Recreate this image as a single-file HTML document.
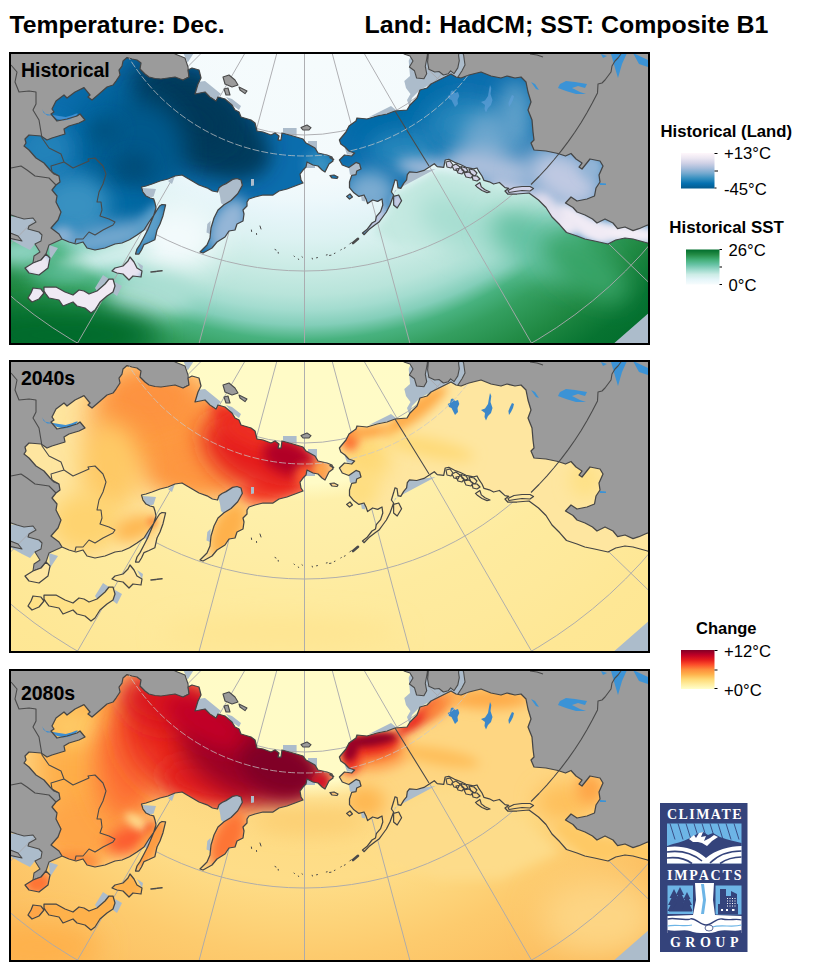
<!DOCTYPE html><html><head><meta charset="utf-8"><title>Temperature: Dec.</title>
<style>html,body{margin:0;padding:0;background:#fff}body{width:830px;height:970px;overflow:hidden}svg{display:block}text{font-family:"Liberation Sans",Arial,sans-serif;fill:#000}.b{font-weight:bold}.lg text{font-size:16.7px}.lg text.b{font-size:16px}</style></head><body>
<svg width="830" height="970" viewBox="0 0 830 970">
<defs>
<clipPath id="cpanel"><rect x="10" y="53" width="639" height="291"/></clipPath>
<clipPath id="cland"><path d="M127.0,57.6 L132.0,59.0 L137.0,60.0 L141.0,63.0 L140.0,69.0 L145.0,74.0 L149.0,77.0 L155.0,78.5 L161.0,79.0 L168.0,78.0 L175.0,77.0 L183.0,80.0 L189.0,77.0 L188.0,70.0 L192.0,68.0 L199.0,70.0 L201.0,78.0 L198.0,84.0 L195.0,94.0 L205.0,92.0 L210.0,97.0 L216.0,101.0 L218.0,97.0 L225.0,99.0 L232.0,105.0 L235.0,110.0 L239.0,112.0 L241.0,117.0 L251.0,120.0 L255.0,123.0 L257.0,131.0 L263.0,132.0 L271.0,135.0 L275.0,133.0 L279.0,136.0 L278.0,140.0 L281.0,140.0 L282.0,133.0 L293.0,136.0 L303.0,139.0 L306.0,143.0 L315.0,148.0 L318.0,153.0 L327.0,155.0 L332.0,157.0 L333.0,161.0 L329.0,164.0 L325.0,172.0 L322.0,170.0 L318.0,166.0 L313.0,165.0 L307.0,162.0 L306.0,167.0 L303.0,170.0 L300.0,174.0 L301.0,180.0 L303.0,183.0 L295.0,186.0 L287.0,189.0 L279.0,191.0 L273.0,195.0 L263.0,195.0 L255.0,197.0 L249.0,199.0 L247.0,202.0 L247.0,206.0 L243.0,210.0 L244.0,214.0 L243.0,221.0 L237.0,224.0 L235.0,230.0 L229.0,231.0 L225.0,237.0 L217.0,242.0 L212.0,248.0 L203.0,253.0 L200.0,252.0 L207.0,245.0 L210.0,238.0 L211.0,228.0 L214.0,218.0 L218.0,210.0 L224.0,204.7 L231.0,200.5 L237.7,193.7 L242.4,185.3 L241.0,180.0 L237.0,178.5 L232.6,179.4 L226.0,183.6 L222.0,185.5 L219.0,187.8 L217.5,192.0 L212.4,191.0 L207.0,187.8 L199.0,185.0 L190.5,180.0 L182.0,175.0 L175.0,176.0 L168.0,179.0 L160.0,181.0 L152.0,184.0 L146.0,186.0 L141.5,187.0 L143.0,192.0 L146.0,196.0 L150.0,198.0 L153.6,198.8 L155.0,203.0 L156.0,208.0 L153.6,215.7 L149.0,222.0 L144.0,230.0 L137.0,235.0 L129.5,239.8 L122.0,243.0 L115.0,244.0 L105.0,248.0 L95.0,250.0 L87.0,248.0 L83.0,242.0 L76.0,244.0 L69.0,242.0 L62.0,239.0 L59.0,234.0 L51.0,228.0 L58.0,220.0 L61.0,212.0 L56.0,202.0 L57.0,196.0 L52.0,190.0 L56.0,185.0 L60.0,182.0 L59.0,176.0 L54.0,174.0 L50.0,170.0 L44.0,163.0 L36.0,158.0 L29.0,150.0 L24.0,146.0 L26.0,143.0 L25.0,139.0 L29.0,135.0 L41.0,136.0 L47.0,140.0 L52.0,138.0 L65.0,134.0 L64.0,129.0 L69.0,126.0 L79.0,123.0 L85.0,120.0 L80.0,114.0 L77.0,116.0 L67.0,119.0 L57.0,121.0 L51.0,114.0 L54.0,112.0 L52.0,109.0 L56.0,101.0 L64.0,95.0 L67.0,98.0 L75.0,92.0 L84.0,87.6 L90.0,95.0 L88.0,97.0 L92.0,100.0 L99.0,94.0 L107.0,87.0 L113.0,85.0 L116.0,81.0 L120.0,75.0 L119.0,70.0 L122.0,66.0 L123.0,61.0Z M165.6,204.8 L163.0,215.7 L160.0,224.0 L157.0,230.0 L154.8,239.8 L149.0,242.5 L144.0,244.6 L141.5,250.0 L139.0,254.0 L135.5,254.0 L137.0,249.0 L140.0,244.6 L144.0,237.0 L147.6,230.0 L151.0,222.0 L153.6,215.7 L157.0,210.0 L159.6,206.0 L162.0,204.5Z M130.0,257.0 L134.0,262.0 L137.0,268.0 L142.0,271.0 L141.0,277.0 L133.0,276.0 L129.0,280.0 L123.0,274.0 L117.0,273.0 L112.0,271.0 L115.0,268.0 L123.0,266.0 L128.0,261.0Z M44.0,287.0 L56.0,287.0 L65.0,292.0 L73.0,295.0 L79.0,290.0 L84.0,291.0 L89.0,294.0 L97.0,291.0 L105.0,284.0 L109.0,279.0 L113.0,279.0 L115.0,286.0 L113.0,292.0 L107.0,296.0 L100.0,302.0 L95.0,310.0 L91.0,313.0 L85.0,308.0 L77.0,306.0 L73.0,302.0 L68.0,304.0 L63.0,306.0 L59.0,300.0 L54.0,299.0 L49.0,298.0 L46.0,294.0 L44.0,291.0Z M33.0,288.0 L41.0,289.0 L44.0,293.0 L39.0,299.0 L32.0,302.0 L28.0,298.0 L31.0,293.0Z M33.0,263.0 L25.0,268.0 L29.0,273.0 L39.0,275.0 L48.0,268.0 L50.0,258.0 L46.0,254.0 L41.0,260.0Z M341.0,138.0 L346.0,132.0 L349.0,126.0 L356.0,121.0 L357.0,118.0 L367.0,119.0 L377.0,116.0 L387.0,114.0 L395.0,111.0 L407.0,110.0 L410.0,105.0 L417.0,98.0 L420.0,90.0 L427.0,88.0 L431.0,84.0 L439.0,80.0 L447.0,76.0 L451.0,74.0 L456.0,77.0 L461.0,78.0 L469.0,75.0 L481.0,72.0 L491.0,76.0 L501.0,78.0 L507.0,76.0 L515.0,78.0 L521.0,77.0 L526.0,82.0 L528.0,92.0 L531.0,102.0 L528.0,110.0 L532.0,120.0 L533.0,132.0 L534.0,140.0 L531.0,143.0 L534.0,150.0 L546.0,151.0 L558.0,153.5 L565.5,156.0 L571.0,153.5 L576.0,159.0 L582.0,163.0 L579.0,167.0 L582.0,169.0 L590.0,159.0 L600.0,161.0 L603.0,166.0 L599.0,175.0 L600.0,182.0 L596.0,188.0 L594.5,196.0 L587.0,199.0 L577.0,201.0 L571.0,197.0 L565.5,203.0 L573.0,207.5 L577.0,212.0 L585.0,215.0 L592.5,219.0 L597.0,223.0 L605.0,219.0 L613.0,223.0 L617.6,228.7 L625.0,227.0 L633.0,230.6 L639.0,228.7 L647.5,225.0 L651.0,225.0 L651.0,243.0 L647.5,243.0 L633.0,239.0 L625.0,238.0 L615.7,240.0 L608.0,244.0 L594.5,241.0 L584.8,239.0 L577.0,236.0 L566.5,232.5 L559.8,224.8 L552.0,217.0 L546.0,207.5 L538.5,200.0 L529.0,193.0 L517.0,194.0 L507.7,194.0 L505.0,191.0 L508.8,188.3 L505.0,187.6 L499.4,182.5 L493.6,184.0 L489.3,181.8 L484.0,180.4 L482.0,176.0 L479.0,171.7 L477.0,168.0 L473.4,168.8 L466.0,167.3 L460.4,164.5 L454.6,162.3 L448.8,159.4 L445.2,160.0 L443.7,167.3 L437.2,166.6 L434.3,163.7 L429.7,166.7 L424.0,170.4 L416.7,172.5 L409.5,171.8 L407.3,174.7 L406.6,179.8 L403.7,183.4 L400.8,188.4 L398.0,187.7 L397.0,180.5 L395.0,179.8 L393.6,184.8 L391.4,192.0 L393.6,195.0 L390.0,205.0 L386.4,212.0 L382.0,218.0 L379.0,222.0 L374.8,225.0 L369.0,229.6 L364.0,234.7 L362.5,233.0 L366.9,229.6 L372.0,223.0 L375.5,221.0 L376.3,216.6 L380.6,211.6 L382.8,205.0 L382.0,199.0 L377.7,201.4 L372.6,200.0 L367.6,203.6 L366.0,199.0 L364.0,195.0 L358.9,196.4 L353.9,192.8 L349.5,187.7 L349.5,182.0 L351.7,175.4 L356.0,174.7 L356.7,171.0 L361.0,169.0 L359.6,163.9 L356.0,162.4 L348.8,167.5 L342.3,165.0 L339.4,160.0 L344.5,155.0 L351.7,156.0 L354.6,153.0 L348.8,151.0 L345.0,147.0 L340.8,144.0 L339.4,140.0Z M393.6,196.4 L398.7,195.0 L401.6,200.7 L397.2,208.0 L393.6,205.0Z M330.0,175.5 L334.0,175.0 L338.0,177.0 L337.0,178.5 L332.0,178.0Z M346.6,196.4 L350.0,194.0 L352.4,197.0 L349.5,199.0Z"/></clipPath>
<filter id="bl2" x="-150%" y="-150%" width="400%" height="400%"><feGaussianBlur stdDeviation="2"/></filter>
<filter id="bl3" x="-150%" y="-150%" width="400%" height="400%"><feGaussianBlur stdDeviation="3"/></filter>
<filter id="bl4" x="-150%" y="-150%" width="400%" height="400%"><feGaussianBlur stdDeviation="4"/></filter>
<filter id="bl5" x="-150%" y="-150%" width="400%" height="400%"><feGaussianBlur stdDeviation="5"/></filter>
<filter id="bl6" x="-150%" y="-150%" width="400%" height="400%"><feGaussianBlur stdDeviation="6"/></filter>
<filter id="bl7" x="-150%" y="-150%" width="400%" height="400%"><feGaussianBlur stdDeviation="7"/></filter>
<filter id="bl8" x="-150%" y="-150%" width="400%" height="400%"><feGaussianBlur stdDeviation="8"/></filter>
<filter id="bl9" x="-150%" y="-150%" width="400%" height="400%"><feGaussianBlur stdDeviation="9"/></filter>
<filter id="bl10" x="-150%" y="-150%" width="400%" height="400%"><feGaussianBlur stdDeviation="10"/></filter>
<filter id="bl12" x="-150%" y="-150%" width="400%" height="400%"><feGaussianBlur stdDeviation="12"/></filter>
<filter id="bl14" x="-150%" y="-150%" width="400%" height="400%"><feGaussianBlur stdDeviation="14"/></filter>
<filter id="bl16" x="-150%" y="-150%" width="400%" height="400%"><feGaussianBlur stdDeviation="16"/></filter>
<radialGradient id="gsst" gradientUnits="userSpaceOnUse" cx="304.5" cy="-50" r="560">
<stop offset="0.0000" stop-color="#f7fcfd"/>
<stop offset="0.4107" stop-color="#f3fafc"/>
<stop offset="0.4464" stop-color="#edf8fb"/>
<stop offset="0.4732" stop-color="#e6f5f9"/>
<stop offset="0.5179" stop-color="#dcf2f2"/>
<stop offset="0.5625" stop-color="#ccece6"/>
<stop offset="0.6161" stop-color="#b8e4da"/>
<stop offset="0.6429" stop-color="#a3dccf"/>
<stop offset="0.6696" stop-color="#83ceb9"/>
<stop offset="0.6964" stop-color="#48b27f"/>
<stop offset="0.7321" stop-color="#349f60"/>
<stop offset="0.7964" stop-color="#208943"/>
<stop offset="0.8625" stop-color="#077331"/>
<stop offset="0.9286" stop-color="#006b2b"/>
<stop offset="1.0000" stop-color="#006529"/>
</radialGradient>
<radialGradient id="goc2" gradientUnits="userSpaceOnUse" cx="304.5" cy="-50" r="560">
<stop offset="0.0000" stop-color="#fffbc8"/>
<stop offset="0.4018" stop-color="#fffbc6"/>
<stop offset="0.4339" stop-color="#fef0ab"/>
<stop offset="0.5357" stop-color="#feeda5"/>
<stop offset="0.6071" stop-color="#feeb9f"/>
<stop offset="0.7143" stop-color="#fee99b"/>
<stop offset="0.8214" stop-color="#fee795"/>
<stop offset="1.0000" stop-color="#fee592"/>
</radialGradient>
<radialGradient id="goc3" gradientUnits="userSpaceOnUse" cx="304.5" cy="-50" r="560">
<stop offset="0.0000" stop-color="#fffbc8"/>
<stop offset="0.3839" stop-color="#fffbc6"/>
<stop offset="0.4143" stop-color="#fee294"/>
<stop offset="0.4464" stop-color="#fdd882"/>
<stop offset="0.5054" stop-color="#fedc86"/>
<stop offset="0.5589" stop-color="#fedd88"/>
<stop offset="0.6304" stop-color="#fdd47a"/>
<stop offset="0.6929" stop-color="#fdcb6e"/>
<stop offset="0.8036" stop-color="#fcc062"/>
<stop offset="0.8929" stop-color="#fbb654"/>
<stop offset="1.0000" stop-color="#fbb04c"/>
</radialGradient>
<linearGradient id="lgland" x1="0" y1="0" x2="0" y2="1">
<stop offset="0.000" stop-color="#fff7fb"/>
<stop offset="0.143" stop-color="#ece7f2"/>
<stop offset="0.286" stop-color="#d0d1e6"/>
<stop offset="0.429" stop-color="#a6bddb"/>
<stop offset="0.571" stop-color="#74a9cf"/>
<stop offset="0.714" stop-color="#3690c0"/>
<stop offset="0.857" stop-color="#0570b0"/>
<stop offset="1.000" stop-color="#045a8d"/>
</linearGradient>
<linearGradient id="lgsst" x1="0" y1="0" x2="0" y2="1">
<stop offset="0.000" stop-color="#006d2c"/>
<stop offset="0.143" stop-color="#238b45"/>
<stop offset="0.286" stop-color="#41ae76"/>
<stop offset="0.429" stop-color="#66c2a4"/>
<stop offset="0.571" stop-color="#99d8c9"/>
<stop offset="0.714" stop-color="#ccece6"/>
<stop offset="0.857" stop-color="#e5f5f9"/>
<stop offset="1.000" stop-color="#f7fcfd"/>
</linearGradient>
<linearGradient id="lgchg" x1="0" y1="0" x2="0" y2="1">
<stop offset="0.000" stop-color="#800026"/>
<stop offset="0.125" stop-color="#bd0026"/>
<stop offset="0.250" stop-color="#e31a1c"/>
<stop offset="0.375" stop-color="#fc4e2a"/>
<stop offset="0.500" stop-color="#fd8d3c"/>
<stop offset="0.625" stop-color="#feb24c"/>
<stop offset="0.750" stop-color="#fed976"/>
<stop offset="0.875" stop-color="#ffeda0"/>
<stop offset="1.000" stop-color="#ffffcc"/>
</linearGradient>
</defs>
<g transform="translate(0,0)"><g clip-path="url(#cpanel)"><rect x="9" y="52" width="642" height="294" fill="url(#gsst)"/><ellipse cx="175" cy="238" rx="45" ry="35" fill="#f3fafc" filter="url(#bl14)"/><ellipse cx="105" cy="258" rx="50" ry="9" fill="#d6f0ee" filter="url(#bl7)" transform="rotate(-12 105 258)"/><ellipse cx="22" cy="252" rx="30" ry="14" fill="#8fd4c2" filter="url(#bl8)"/><ellipse cx="150" cy="295" rx="45" ry="22" fill="#abdfd3" filter="url(#bl10)"/><ellipse cx="60" cy="274" rx="30" ry="10" fill="#57ba92" filter="url(#bl8)"/><path d="M394.0,193.0 L436.0,169.5 L480.0,178.0 L520.0,198.0 L500.0,230.0 L440.0,250.0 L395.0,245.0 L372.0,232.0 L386.0,215.0Z" fill="#c4e9e1" filter="url(#bl5)"/><ellipse cx="470" cy="228" rx="55" ry="26" fill="#a7ded1" filter="url(#bl12)" transform="rotate(25 470 228)"/><ellipse cx="535" cy="243" rx="50" ry="26" fill="#66c2a4" filter="url(#bl12)" transform="rotate(32 535 243)"/><ellipse cx="585" cy="268" rx="50" ry="22" fill="#39a468" filter="url(#bl12)" transform="rotate(35 585 268)"/><ellipse cx="60" cy="335" rx="100" ry="28" fill="#006b2b" filter="url(#bl14)"/><path d="M182.7,52.0 L194.5,52.0 L187.7,62.6Z M226.0,97.0 L232.0,99.0 L241.0,106.0 L239.0,110.0 L232.0,105.0Z M218.0,188.5 L222.0,184.5 L226.0,182.6 L232.6,178.4 L242.0,179.0 L243.4,185.3 L238.7,194.7 L232.0,201.5 L224.0,205.7 L221.0,203.0 L220.0,196.0Z M8.0,216.0 L33.0,218.0 L36.0,222.0 L29.0,226.0 L28.0,229.0 L39.0,232.0 L42.0,235.0 L41.0,241.0 L35.0,244.0 L30.0,250.0 L22.0,246.0 L8.0,238.0Z M49.0,245.0 L58.0,248.0 L50.0,260.0Z M197.0,82.0 L205.0,81.0 L221.0,94.0 L215.0,100.0 L205.0,92.0 L195.0,94.0Z M283.0,128.0 L296.6,128.0 L296.6,136.0 L283.0,133.0Z M308.0,141.0 L317.0,141.0 L317.0,150.0 L308.0,146.0Z M305.0,160.0 L315.0,160.0 L315.0,168.0 L305.0,168.0Z M142.7,188.0 L156.0,189.0 L153.6,196.4 L146.3,198.8Z M142.7,227.7 L153.6,213.0 L156.0,215.7 L147.6,232.5Z M137.0,262.0 L143.0,266.0 L142.0,271.0Z M103.0,275.0 L109.0,279.0 L97.0,291.0 L95.0,288.0Z M115.0,282.0 L122.0,286.0 L117.0,296.0 L113.0,293.0Z M404.3,81.0 L410.0,75.9 L408.7,60.7 L413.0,51.0 L463.0,51.0 L465.0,65.0 L458.0,77.0 L447.7,75.9 L431.0,84.0 L420.0,90.0 L412.0,98.0 L409.5,107.0 L407.0,100.0 L410.5,94.0 L406.0,88.0Z M369.0,117.0 L391.0,106.0 L396.0,110.0 L395.0,112.0Z M344.5,147.0 L353.9,151.6 L354.6,155.0 L347.0,154.5Z M348.8,167.5 L356.0,162.4 L361.0,166.0 L361.0,171.0 L356.7,174.7 L350.0,174.7Z M361.0,195.7 L364.7,196.4 L365.4,201.4 L361.8,200.7Z M408.8,172.5 L435.5,169.0 L395.0,190.6 L390.0,205.0 L393.0,195.0Z M611.0,346.0 L652.0,310.0 L652.0,346.0Z" fill="#acbccb"/><g fill="none" stroke="#a9a9ad" stroke-width="1" opacity="0.92"><line x1="247.9" y1="6.6" x2="-133.9" y2="388.4"/><line x1="264.5" y1="19.3" x2="-5.5" y2="486.9"/><line x1="283.8" y1="27.3" x2="144.0" y2="548.9"/><line x1="304.5" y1="30.0" x2="304.5" y2="570.0"/><line x1="325.2" y1="27.3" x2="465.0" y2="548.9"/><line x1="344.5" y1="19.3" x2="614.5" y2="486.9"/><line x1="362.0" y1="5.6" x2="750.5" y2="380.7"/><circle cx="304.5" cy="-50" r="185"/><circle cx="304.5" cy="-50" r="321"/><circle cx="304.5" cy="-50" r="454"/></g><path d="M8.0,51.0 L176.0,51.0 L175.0,54.0 L185.0,58.0 L188.0,67.0 L189.0,77.0 L183.0,80.0 L160.0,100.0 L100.0,150.0 L70.0,200.0 L62.0,239.0 L60.0,240.0 L49.0,245.0 L46.0,254.0 L41.0,260.0 L33.0,263.0 L34.0,256.0 L40.0,252.0 L35.0,244.0 L41.0,241.0 L42.0,235.0 L39.0,232.0 L28.0,229.0 L29.0,226.0 L36.0,222.0 L33.0,218.0 L24.0,219.0 L17.0,217.0 L8.0,214.0Z M8.0,232.0 L18.0,236.0 L22.0,241.0 L8.0,238.0Z M462.0,51.0 L463.6,55.0 L465.0,65.0 L462.0,70.8 L457.8,77.3 L459.0,80.0 L480.0,76.0 L515.0,85.0 L522.0,120.0 L528.0,150.0 L540.0,165.0 L555.0,180.0 L560.0,195.0 L563.0,210.0 L570.0,218.0 L580.0,225.0 L600.0,234.0 L620.0,236.0 L652.0,238.0 L652.0,51.0Z M404.0,51.0 L404.0,54.0 L410.0,56.0 L413.0,61.0 L409.4,67.0 L414.5,70.8 L416.6,78.0 L423.9,78.7 L426.7,73.7 L425.3,66.5 L426.7,59.0 L427.3,55.6 L427.6,51.0Z M428.6,51.0 L428.2,55.6 L427.6,62.0 L428.9,69.3 L434.7,72.0 L439.0,71.5 L443.4,75.0 L448.4,73.7 L450.6,70.8 L454.0,73.7 L457.8,67.9 L459.3,60.7 L458.6,55.6 L459.0,51.0Z M301.0,127.6 L307.0,125.0 L311.0,127.6 L309.0,130.0 L303.0,130.0Z M223.0,77.0 L229.0,75.0 L235.0,80.0 L238.0,85.0 L232.0,87.0 L225.0,84.0Z M224.0,89.0 L228.0,88.0 L230.0,95.0 L226.0,95.0Z M239.0,87.0 L247.0,91.0 L245.0,93.6 L240.0,90.0Z" fill="#9b9b9b" stroke="#4a4a4a" stroke-width="1.1" stroke-linejoin="round"/><path d="M560.0,84.0 L566.0,81.0 L575.0,82.0 L587.0,84.0 L585.0,88.0 L578.0,86.0 L572.0,88.0 L580.0,92.0 L586.0,94.0 L576.0,94.0 L566.0,91.0 L558.0,88.0Z M531.0,82.0 L535.0,84.0 L539.0,90.0 L536.0,89.0Z M601.0,54.0 L607.0,56.0 L603.0,58.0Z M611.0,54.0 L627.0,53.0 L622.0,64.0 L618.0,78.0 L615.0,68.0Z M633.0,53.0 L648.0,60.0 L648.0,67.0 L639.0,64.0Z M600.0,183.0 L606.0,183.5 L606.0,185.0 L600.0,185.0Z" fill="#3b93d6"/><g clip-path="url(#cland)"><rect x="9" y="52" width="642" height="294" fill="#0b6dad"/><ellipse cx="175" cy="103" rx="55" ry="36" fill="#023858" filter="url(#bl14)" transform="rotate(30 175 103)"/><ellipse cx="232" cy="150" rx="38" ry="22" fill="#023d60" filter="url(#bl10)" transform="rotate(20 232 150)"/><ellipse cx="115" cy="140" rx="45" ry="60" fill="#04649c" filter="url(#bl14)"/><ellipse cx="200" cy="125" rx="70" ry="45" fill="#023b5c" filter="url(#bl12)" transform="rotate(30 200 125)"/><ellipse cx="195" cy="120" rx="38" ry="28" fill="#023858" filter="url(#bl10)" transform="rotate(30 195 120)"/><ellipse cx="140" cy="150" rx="45" ry="50" fill="#04598b" filter="url(#bl12)"/><ellipse cx="125" cy="205" rx="25" ry="16" fill="#0567a2" filter="url(#bl8)"/><ellipse cx="105" cy="131" rx="16" ry="12" fill="#045382" filter="url(#bl8)"/><ellipse cx="134" cy="167" rx="18" ry="14" fill="#034e7a" filter="url(#bl8)"/><ellipse cx="45" cy="150" rx="28" ry="28" fill="#2082b9" filter="url(#bl10)"/><ellipse cx="75" cy="205" rx="35" ry="30" fill="#3891c1" filter="url(#bl10)"/><ellipse cx="110" cy="238" rx="55" ry="14" fill="#74a9cf" filter="url(#bl8)" transform="rotate(-12 110 238)"/><ellipse cx="62" cy="236" rx="12" ry="10" fill="#88b1d4" filter="url(#bl5)"/><ellipse cx="150" cy="225" rx="10" ry="25" fill="#5b9fc9" filter="url(#bl5)" transform="rotate(30 150 225)"/><ellipse cx="228" cy="226" rx="18" ry="30" fill="#94b6d7" filter="url(#bl7)" transform="rotate(25 228 226)"/><ellipse cx="320" cy="165" rx="14" ry="14" fill="#3891c1" filter="url(#bl6)"/><ellipse cx="80" cy="296" rx="62" ry="22" fill="#f0eaf4" filter="url(#bl3)" transform="rotate(-12 80 296)"/><ellipse cx="36" cy="295" rx="13" ry="11" fill="#f0eaf4" filter="url(#bl3)"/><ellipse cx="128" cy="268" rx="18" ry="14" fill="#e9e4f1" filter="url(#bl3)"/><ellipse cx="38" cy="265" rx="16" ry="14" fill="#ede8f2" filter="url(#bl3)"/><ellipse cx="400" cy="110" rx="60" ry="22" fill="#056ba8" filter="url(#bl10)" transform="rotate(-25 400 110)"/><ellipse cx="405" cy="150" rx="35" ry="18" fill="#2887bc" filter="url(#bl10)"/><ellipse cx="465" cy="125" rx="40" ry="28" fill="#2887bc" filter="url(#bl12)"/><ellipse cx="515" cy="115" rx="18" ry="35" fill="#5b9fc9" filter="url(#bl10)"/><ellipse cx="487" cy="138" rx="26" ry="26" fill="#6aa5cd" filter="url(#bl10)"/><ellipse cx="370" cy="192" rx="26" ry="22" fill="#7cacd1" filter="url(#bl9)"/><ellipse cx="376" cy="222" rx="12" ry="18" fill="#bfc9e2" filter="url(#bl5)" transform="rotate(25 376 222)"/><ellipse cx="397.5" cy="201.5" rx="6" ry="8" fill="#c6cce3" filter="url(#bl2)"/><ellipse cx="440" cy="170" rx="45" ry="10" fill="#abbfdc" filter="url(#bl7)" transform="rotate(8 440 170)"/><ellipse cx="490" cy="168" rx="45" ry="18" fill="#abbfdc" filter="url(#bl9)" transform="rotate(12 490 168)"/><ellipse cx="565" cy="180" rx="45" ry="32" fill="#bfc9e2" filter="url(#bl12)" transform="rotate(30 565 180)"/><ellipse cx="592" cy="166" rx="12" ry="12" fill="#94b6d7" filter="url(#bl6)"/><ellipse cx="520" cy="195" rx="35" ry="10" fill="#d0d1e6" filter="url(#bl6)" transform="rotate(20 520 195)"/><ellipse cx="625" cy="233.5" rx="45" ry="12" fill="#f4eef6" filter="url(#bl5)" transform="rotate(5 625 233.5)"/><ellipse cx="583" cy="224" rx="32" ry="12" fill="#f1ebf5" filter="url(#bl5)" transform="rotate(32 583 224)"/><ellipse cx="566" cy="224" rx="12" ry="14" fill="#f0eaf4" filter="url(#bl4)" transform="rotate(-40 566 224)"/><ellipse cx="553" cy="213" rx="9" ry="14" fill="#e9e4f1" filter="url(#bl4)" transform="rotate(-40 553 213)"/><ellipse cx="543" cy="202" rx="8" ry="10" fill="#e0dded" filter="url(#bl4)" transform="rotate(-40 543 202)"/></g><path d="M451.0,91.0 L453.0,90.5 L455.0,93.0 L458.0,92.0 L459.3,96.0 L457.5,100.0 L458.0,104.0 L455.0,107.0 L453.0,103.0 L451.5,100.0 L449.0,99.0 L447.7,96.0 L450.0,95.0Z M490.0,85.0 L491.3,88.0 L490.5,94.0 L492.5,100.0 L491.0,105.0 L488.0,108.0 L486.0,112.5 L484.5,109.0 L485.0,105.0 L481.0,102.0 L485.0,100.5 L488.0,96.0 L489.0,90.0Z M512.0,95.0 L514.0,96.0 L513.0,100.0 L511.0,104.0 L509.0,107.0 L508.4,103.0 L510.0,99.0Z" fill="#5fa0d8" opacity="0.7"/><path d="M251.0,179.0 L254.0,179.0 L254.0,185.5 L251.0,186.0Z M207.3,224.0 L210.7,220.7 L210.0,234.0 L206.5,232.5Z M168.0,181.0 L175.0,176.0 L172.0,184.0Z" fill="#acbccb"/><path d="M42.0,108.9 L43.5,112.7 L47.3,115.6 L52.2,115.6 L57.0,119.0 L63.7,120.4 L69.5,119.5 L75.3,116.6 L78.2,113.7 L76.3,113.4 L71.4,115.6 L65.7,116.9 L58.9,116.1 L53.1,114.9 L49.3,114.6 L45.4,113.7 L43.0,110.8Z" fill="#3e8fd2"/><path d="M127.0,57.6 L132.0,59.0 L137.0,60.0 L141.0,63.0 L140.0,69.0 L145.0,74.0 L149.0,77.0 L155.0,78.5 L161.0,79.0 L168.0,78.0 L175.0,77.0 L183.0,80.0 L189.0,77.0 L188.0,70.0 L192.0,68.0 L199.0,70.0 L201.0,78.0 L198.0,84.0 L195.0,94.0 L205.0,92.0 L210.0,97.0 L216.0,101.0 L218.0,97.0 L225.0,99.0 L232.0,105.0 L235.0,110.0 L239.0,112.0 L241.0,117.0 L251.0,120.0 L255.0,123.0 L257.0,131.0 L263.0,132.0 L271.0,135.0 L275.0,133.0 L279.0,136.0 L278.0,140.0 L281.0,140.0 L282.0,133.0 L293.0,136.0 L303.0,139.0 L306.0,143.0 L315.0,148.0 L318.0,153.0 L327.0,155.0 L332.0,157.0 L333.0,161.0 L329.0,164.0 L325.0,172.0 L322.0,170.0 L318.0,166.0 L313.0,165.0 L307.0,162.0 L306.0,167.0 L303.0,170.0 L300.0,174.0 L301.0,180.0 L303.0,183.0 L295.0,186.0 L287.0,189.0 L279.0,191.0 L273.0,195.0 L263.0,195.0 L255.0,197.0 L249.0,199.0 L247.0,202.0 L247.0,206.0 L243.0,210.0 L244.0,214.0 L243.0,221.0 L237.0,224.0 L235.0,230.0 L229.0,231.0 L225.0,237.0 L217.0,242.0 L212.0,248.0 L203.0,253.0 L200.0,252.0 L207.0,245.0 L210.0,238.0 L211.0,228.0 L214.0,218.0 L218.0,210.0 L224.0,204.7 L231.0,200.5 L237.7,193.7 L242.4,185.3 L241.0,180.0 L237.0,178.5 L232.6,179.4 L226.0,183.6 L222.0,185.5 L219.0,187.8 L217.5,192.0 L212.4,191.0 L207.0,187.8 L199.0,185.0 L190.5,180.0 L182.0,175.0 L175.0,176.0 L168.0,179.0 L160.0,181.0 L152.0,184.0 L146.0,186.0 L141.5,187.0 L143.0,192.0 L146.0,196.0 L150.0,198.0 L153.6,198.8 L155.0,203.0 L156.0,208.0 L153.6,215.7 L149.0,222.0 L144.0,230.0 L137.0,235.0 L129.5,239.8 L122.0,243.0 L115.0,244.0 L105.0,248.0 L95.0,250.0 L87.0,248.0 L83.0,242.0 L76.0,244.0 L69.0,242.0 L62.0,239.0 L59.0,234.0 L51.0,228.0 L58.0,220.0 L61.0,212.0 L56.0,202.0 L57.0,196.0 L52.0,190.0 L56.0,185.0 L60.0,182.0 L59.0,176.0 L54.0,174.0 L50.0,170.0 L44.0,163.0 L36.0,158.0 L29.0,150.0 L24.0,146.0 L26.0,143.0 L25.0,139.0 L29.0,135.0 L41.0,136.0 L47.0,140.0 L52.0,138.0 L65.0,134.0 L64.0,129.0 L69.0,126.0 L79.0,123.0 L85.0,120.0 L80.0,114.0 L77.0,116.0 L67.0,119.0 L57.0,121.0 L51.0,114.0 L54.0,112.0 L52.0,109.0 L56.0,101.0 L64.0,95.0 L67.0,98.0 L75.0,92.0 L84.0,87.6 L90.0,95.0 L88.0,97.0 L92.0,100.0 L99.0,94.0 L107.0,87.0 L113.0,85.0 L116.0,81.0 L120.0,75.0 L119.0,70.0 L122.0,66.0 L123.0,61.0Z M165.6,204.8 L163.0,215.7 L160.0,224.0 L157.0,230.0 L154.8,239.8 L149.0,242.5 L144.0,244.6 L141.5,250.0 L139.0,254.0 L135.5,254.0 L137.0,249.0 L140.0,244.6 L144.0,237.0 L147.6,230.0 L151.0,222.0 L153.6,215.7 L157.0,210.0 L159.6,206.0 L162.0,204.5Z M130.0,257.0 L134.0,262.0 L137.0,268.0 L142.0,271.0 L141.0,277.0 L133.0,276.0 L129.0,280.0 L123.0,274.0 L117.0,273.0 L112.0,271.0 L115.0,268.0 L123.0,266.0 L128.0,261.0Z M44.0,287.0 L56.0,287.0 L65.0,292.0 L73.0,295.0 L79.0,290.0 L84.0,291.0 L89.0,294.0 L97.0,291.0 L105.0,284.0 L109.0,279.0 L113.0,279.0 L115.0,286.0 L113.0,292.0 L107.0,296.0 L100.0,302.0 L95.0,310.0 L91.0,313.0 L85.0,308.0 L77.0,306.0 L73.0,302.0 L68.0,304.0 L63.0,306.0 L59.0,300.0 L54.0,299.0 L49.0,298.0 L46.0,294.0 L44.0,291.0Z M33.0,288.0 L41.0,289.0 L44.0,293.0 L39.0,299.0 L32.0,302.0 L28.0,298.0 L31.0,293.0Z M33.0,263.0 L25.0,268.0 L29.0,273.0 L39.0,275.0 L48.0,268.0 L50.0,258.0 L46.0,254.0 L41.0,260.0Z M341.0,138.0 L346.0,132.0 L349.0,126.0 L356.0,121.0 L357.0,118.0 L367.0,119.0 L377.0,116.0 L387.0,114.0 L395.0,111.0 L407.0,110.0 L410.0,105.0 L417.0,98.0 L420.0,90.0 L427.0,88.0 L431.0,84.0 L439.0,80.0 L447.0,76.0 L451.0,74.0 L456.0,77.0 L461.0,78.0 L469.0,75.0 L481.0,72.0 L491.0,76.0 L501.0,78.0 L507.0,76.0 L515.0,78.0 L521.0,77.0 L526.0,82.0 L528.0,92.0 L531.0,102.0 L528.0,110.0 L532.0,120.0 L533.0,132.0 L534.0,140.0 L531.0,143.0 L534.0,150.0 L546.0,151.0 L558.0,153.5 L565.5,156.0 L571.0,153.5 L576.0,159.0 L582.0,163.0 L579.0,167.0 L582.0,169.0 L590.0,159.0 L600.0,161.0 L603.0,166.0 L599.0,175.0 L600.0,182.0 L596.0,188.0 L594.5,196.0 L587.0,199.0 L577.0,201.0 L571.0,197.0 L565.5,203.0 L573.0,207.5 L577.0,212.0 L585.0,215.0 L592.5,219.0 L597.0,223.0 L605.0,219.0 L613.0,223.0 L617.6,228.7 L625.0,227.0 L633.0,230.6 L639.0,228.7 L647.5,225.0 L651.0,225.0 L651.0,243.0 L647.5,243.0 L633.0,239.0 L625.0,238.0 L615.7,240.0 L608.0,244.0 L594.5,241.0 L584.8,239.0 L577.0,236.0 L566.5,232.5 L559.8,224.8 L552.0,217.0 L546.0,207.5 L538.5,200.0 L529.0,193.0 L517.0,194.0 L507.7,194.0 L505.0,191.0 L508.8,188.3 L505.0,187.6 L499.4,182.5 L493.6,184.0 L489.3,181.8 L484.0,180.4 L482.0,176.0 L479.0,171.7 L477.0,168.0 L473.4,168.8 L466.0,167.3 L460.4,164.5 L454.6,162.3 L448.8,159.4 L445.2,160.0 L443.7,167.3 L437.2,166.6 L434.3,163.7 L429.7,166.7 L424.0,170.4 L416.7,172.5 L409.5,171.8 L407.3,174.7 L406.6,179.8 L403.7,183.4 L400.8,188.4 L398.0,187.7 L397.0,180.5 L395.0,179.8 L393.6,184.8 L391.4,192.0 L393.6,195.0 L390.0,205.0 L386.4,212.0 L382.0,218.0 L379.0,222.0 L374.8,225.0 L369.0,229.6 L364.0,234.7 L362.5,233.0 L366.9,229.6 L372.0,223.0 L375.5,221.0 L376.3,216.6 L380.6,211.6 L382.8,205.0 L382.0,199.0 L377.7,201.4 L372.6,200.0 L367.6,203.6 L366.0,199.0 L364.0,195.0 L358.9,196.4 L353.9,192.8 L349.5,187.7 L349.5,182.0 L351.7,175.4 L356.0,174.7 L356.7,171.0 L361.0,169.0 L359.6,163.9 L356.0,162.4 L348.8,167.5 L342.3,165.0 L339.4,160.0 L344.5,155.0 L351.7,156.0 L354.6,153.0 L348.8,151.0 L345.0,147.0 L340.8,144.0 L339.4,140.0Z M393.6,196.4 L398.7,195.0 L401.6,200.7 L397.2,208.0 L393.6,205.0Z M330.0,175.5 L334.0,175.0 L338.0,177.0 L337.0,178.5 L332.0,178.0Z M346.6,196.4 L350.0,194.0 L352.4,197.0 L349.5,199.0Z" fill="none" stroke="#454545" stroke-width="1.25" stroke-linejoin="round"/><path d="M446.0,162.0 L450.0,161.0 L453.0,165.0 L451.0,168.0 L447.0,167.0Z M452.0,166.0 L456.0,164.0 L460.0,167.0 L458.0,171.0 L454.0,170.0Z M456.0,169.0 L461.0,168.0 L464.0,171.0 L462.0,174.0 L458.0,173.0Z M461.0,166.5 L466.0,168.0 L468.0,171.0 L465.0,172.0 L462.0,170.0Z M464.0,173.0 L469.0,172.0 L473.0,175.0 L471.0,178.0 L466.0,177.0Z M469.0,169.0 L474.0,170.0 L477.0,173.0 L475.0,176.0 L471.0,174.0Z M472.0,176.0 L477.0,176.0 L480.0,179.0 L477.0,181.0 L473.0,180.0Z M475.5,185.4 L479.9,182.5 L481.3,186.9 L485.0,189.8 L490.0,192.0 L487.0,192.6 L482.0,190.5 L477.7,187.6Z M508.0,190.5 L514.0,187.5 L522.0,186.5 L530.0,186.5 L533.5,188.5 L530.0,191.0 L522.0,190.5 L515.0,191.5 L509.0,192.5Z" fill="#d3d3e8" stroke="#454545" stroke-width="1.2" stroke-linejoin="round"/><path d="M11.0,65.0 L17.0,72.0 L15.0,82.0 L19.0,92.0 L29.0,91.0 L36.0,92.0 L36.0,104.0 L33.0,110.0 L39.0,120.0 L41.0,132.0 L42.0,138.0 L49.0,148.0 L61.0,154.0 L64.0,162.0 L51.0,166.0 L52.0,172.0 L59.0,176.0 M64.0,162.0 L73.0,168.0 L89.0,161.0 L88.0,159.0 L95.0,158.0 L103.0,166.0 L106.0,174.0 L103.0,184.0 L99.0,192.0 L97.0,202.0 L101.0,202.0 L102.0,210.0 L100.0,216.0 L109.0,219.0 L115.0,222.0 L113.0,225.0 L103.0,230.0 L95.0,235.0 L89.0,232.0 L83.0,239.0 L76.0,239.0 L75.0,243.0 M11.0,168.0 L21.0,166.0 L27.0,170.0 L35.0,176.0 L49.0,178.0 L56.0,185.0 M395.0,111.0 L429.0,166.0 M530.0,54.0 L537.0,55.0 L543.0,57.0 M531.0,184.5 L539.0,176.5 L546.8,168.1 L554.2,159.5 L561.4,150.7 L568.2,141.6 L574.8,132.3 L581.0,122.8 L586.8,113.0 L592.3,103.0 L597.5,92.9 L598.0,84.0 L602.0,83.0 L605.0,80.0 L608.0,76.0 L611.0,72.0 L612.0,66.0 L615.0,61.0 L618.0,58.0 L621.0,54.0" fill="none" stroke="#4a4a4a" stroke-width="1.1" stroke-linejoin="round"/><g fill="none" stroke="#4a4a4a" stroke-linecap="round"><path d="M151,272 L156,271.5" stroke-width="1.6"/><path d="M157,271.3 L162,270.8" stroke-width="1.6"/><path d="M353,243 L358,238.8" stroke-width="2.6"/><path d="M349.8,244 L351.2,242.6" stroke-width="1"/><path d="M251.4,230 L251.6,231.5" stroke-width="1"/><path d="M256.5,233.5 L256.6,234.5" stroke-width="1"/><path d="M275,249.5 L276,250" stroke-width="1"/><path d="M278.2,252.3 L278.3,253.2" stroke-width="1"/><path d="M294,256.1 L294.5,256.5" stroke-width="1"/><path d="M298.4,259 L298.6,259.5" stroke-width="1"/><path d="M302,256.8 L302.5,257.2" stroke-width="1"/><path d="M312.2,258.2 L312.4,259" stroke-width="1"/><path d="M316.5,257.8 L317.5,257.6" stroke-width="1"/><path d="M326.3,255 L327.2,254.8" stroke-width="1"/><path d="M329.5,255.4 L331,255.2" stroke-width="1"/><path d="M334.3,253.5 L335,253.2" stroke-width="1"/><path d="M340.8,249.9 L341.3,249.6" stroke-width="1"/><path d="M344.3,248.2 L345.2,247.8" stroke-width="1"/><path d="M330,157.5 L333.6,159.5" stroke-width="1.5"/><path d="M260,226 L261,229" stroke-width="1"/></g><g clip-path="url(#cland)"><circle cx="304.5" cy="-50" r="206" fill="none" stroke="#c9c9c9" stroke-width="0.9" stroke-dasharray="7 2" opacity="0.8"/></g></g><rect x="10" y="53" width="639" height="291" fill="none" stroke="#000" stroke-width="2"/><text class="b" x="20.9" y="76.6" font-size="19.5">Historical</text></g>
<g transform="translate(0,308)"><g clip-path="url(#cpanel)"><rect x="9" y="52" width="642" height="294" fill="url(#goc2)"/><ellipse cx="280" cy="325" rx="120" ry="16" fill="#fee592" filter="url(#bl12)"/><path d="M182.7,52.0 L194.5,52.0 L187.7,62.6Z M226.0,97.0 L232.0,99.0 L241.0,106.0 L239.0,110.0 L232.0,105.0Z M218.0,188.5 L222.0,184.5 L226.0,182.6 L232.6,178.4 L242.0,179.0 L243.4,185.3 L238.7,194.7 L232.0,201.5 L224.0,205.7 L221.0,203.0 L220.0,196.0Z M8.0,216.0 L33.0,218.0 L36.0,222.0 L29.0,226.0 L28.0,229.0 L39.0,232.0 L42.0,235.0 L41.0,241.0 L35.0,244.0 L30.0,250.0 L22.0,246.0 L8.0,238.0Z M49.0,245.0 L58.0,248.0 L50.0,260.0Z M197.0,82.0 L205.0,81.0 L221.0,94.0 L215.0,100.0 L205.0,92.0 L195.0,94.0Z M283.0,128.0 L296.6,128.0 L296.6,136.0 L283.0,133.0Z M308.0,141.0 L317.0,141.0 L317.0,150.0 L308.0,146.0Z M305.0,160.0 L315.0,160.0 L315.0,168.0 L305.0,168.0Z M142.7,188.0 L156.0,189.0 L153.6,196.4 L146.3,198.8Z M142.7,227.7 L153.6,213.0 L156.0,215.7 L147.6,232.5Z M137.0,262.0 L143.0,266.0 L142.0,271.0Z M103.0,275.0 L109.0,279.0 L97.0,291.0 L95.0,288.0Z M115.0,282.0 L122.0,286.0 L117.0,296.0 L113.0,293.0Z M404.3,81.0 L410.0,75.9 L408.7,60.7 L413.0,51.0 L463.0,51.0 L465.0,65.0 L458.0,77.0 L447.7,75.9 L431.0,84.0 L420.0,90.0 L412.0,98.0 L409.5,107.0 L407.0,100.0 L410.5,94.0 L406.0,88.0Z M369.0,117.0 L391.0,106.0 L396.0,110.0 L395.0,112.0Z M344.5,147.0 L353.9,151.6 L354.6,155.0 L347.0,154.5Z M348.8,167.5 L356.0,162.4 L361.0,166.0 L361.0,171.0 L356.7,174.7 L350.0,174.7Z M361.0,195.7 L364.7,196.4 L365.4,201.4 L361.8,200.7Z M408.8,172.5 L435.5,169.0 L395.0,190.6 L390.0,205.0 L393.0,195.0Z M611.0,346.0 L652.0,310.0 L652.0,346.0Z" fill="#acbccb"/><g fill="none" stroke="#a9a9ad" stroke-width="1" opacity="0.92"><line x1="247.9" y1="6.6" x2="-133.9" y2="388.4"/><line x1="264.5" y1="19.3" x2="-5.5" y2="486.9"/><line x1="283.8" y1="27.3" x2="144.0" y2="548.9"/><line x1="304.5" y1="30.0" x2="304.5" y2="570.0"/><line x1="325.2" y1="27.3" x2="465.0" y2="548.9"/><line x1="344.5" y1="19.3" x2="614.5" y2="486.9"/><line x1="362.0" y1="5.6" x2="750.5" y2="380.7"/><circle cx="304.5" cy="-50" r="185"/><circle cx="304.5" cy="-50" r="321"/><circle cx="304.5" cy="-50" r="454"/></g><path d="M8.0,51.0 L176.0,51.0 L175.0,54.0 L185.0,58.0 L188.0,67.0 L189.0,77.0 L183.0,80.0 L160.0,100.0 L100.0,150.0 L70.0,200.0 L62.0,239.0 L60.0,240.0 L49.0,245.0 L46.0,254.0 L41.0,260.0 L33.0,263.0 L34.0,256.0 L40.0,252.0 L35.0,244.0 L41.0,241.0 L42.0,235.0 L39.0,232.0 L28.0,229.0 L29.0,226.0 L36.0,222.0 L33.0,218.0 L24.0,219.0 L17.0,217.0 L8.0,214.0Z M8.0,232.0 L18.0,236.0 L22.0,241.0 L8.0,238.0Z M462.0,51.0 L463.6,55.0 L465.0,65.0 L462.0,70.8 L457.8,77.3 L459.0,80.0 L480.0,76.0 L515.0,85.0 L522.0,120.0 L528.0,150.0 L540.0,165.0 L555.0,180.0 L560.0,195.0 L563.0,210.0 L570.0,218.0 L580.0,225.0 L600.0,234.0 L620.0,236.0 L652.0,238.0 L652.0,51.0Z M404.0,51.0 L404.0,54.0 L410.0,56.0 L413.0,61.0 L409.4,67.0 L414.5,70.8 L416.6,78.0 L423.9,78.7 L426.7,73.7 L425.3,66.5 L426.7,59.0 L427.3,55.6 L427.6,51.0Z M428.6,51.0 L428.2,55.6 L427.6,62.0 L428.9,69.3 L434.7,72.0 L439.0,71.5 L443.4,75.0 L448.4,73.7 L450.6,70.8 L454.0,73.7 L457.8,67.9 L459.3,60.7 L458.6,55.6 L459.0,51.0Z M301.0,127.6 L307.0,125.0 L311.0,127.6 L309.0,130.0 L303.0,130.0Z M223.0,77.0 L229.0,75.0 L235.0,80.0 L238.0,85.0 L232.0,87.0 L225.0,84.0Z M224.0,89.0 L228.0,88.0 L230.0,95.0 L226.0,95.0Z M239.0,87.0 L247.0,91.0 L245.0,93.6 L240.0,90.0Z" fill="#9b9b9b" stroke="#4a4a4a" stroke-width="1.1" stroke-linejoin="round"/><path d="M560.0,84.0 L566.0,81.0 L575.0,82.0 L587.0,84.0 L585.0,88.0 L578.0,86.0 L572.0,88.0 L580.0,92.0 L586.0,94.0 L576.0,94.0 L566.0,91.0 L558.0,88.0Z M531.0,82.0 L535.0,84.0 L539.0,90.0 L536.0,89.0Z M601.0,54.0 L607.0,56.0 L603.0,58.0Z M611.0,54.0 L627.0,53.0 L622.0,64.0 L618.0,78.0 L615.0,68.0Z M633.0,53.0 L648.0,60.0 L648.0,67.0 L639.0,64.0Z M600.0,183.0 L606.0,183.5 L606.0,185.0 L600.0,185.0Z" fill="#3b93d6"/><g clip-path="url(#cland)"><rect x="9" y="52" width="642" height="294" fill="#fee6a0"/><ellipse cx="175" cy="125" rx="88" ry="55" fill="#fd9941" filter="url(#bl16)" transform="rotate(20 175 125)"/><ellipse cx="150" cy="90" rx="45" ry="30" fill="#fd933f" filter="url(#bl12)"/><ellipse cx="200" cy="160" rx="50" ry="25" fill="#fd9640" filter="url(#bl10)"/><ellipse cx="270" cy="180" rx="30" ry="14" fill="#fc512b" filter="url(#bl7)" transform="rotate(-15 270 180)"/><ellipse cx="235" cy="112" rx="28" ry="10" fill="#f13724" filter="url(#bl6)" transform="rotate(30 235 112)"/><ellipse cx="110" cy="160" rx="30" ry="45" fill="#fec965" filter="url(#bl12)"/><ellipse cx="85" cy="215" rx="35" ry="30" fill="#fed36f" filter="url(#bl10)"/><ellipse cx="135" cy="220" rx="22" ry="12" fill="#feb751" filter="url(#bl7)" transform="rotate(-20 135 220)"/><ellipse cx="152" cy="214" rx="5" ry="5" fill="#fd8d3c" filter="url(#bl3)"/><ellipse cx="262" cy="147" rx="64" ry="36" fill="#e51e1d" filter="url(#bl12)" transform="rotate(25 262 147)"/><ellipse cx="250" cy="124" rx="32" ry="14" fill="#ed2f22" filter="url(#bl8)" transform="rotate(25 250 124)"/><ellipse cx="288" cy="150" rx="26" ry="16" fill="#b10026" filter="url(#bl6)" transform="rotate(20 288 150)"/><ellipse cx="305" cy="168" rx="10" ry="12" fill="#fc5b2e" filter="url(#bl5)"/><ellipse cx="321" cy="162" rx="9" ry="9" fill="#fea546" filter="url(#bl5)"/><ellipse cx="228" cy="222" rx="16" ry="30" fill="#feb14b" filter="url(#bl6)" transform="rotate(25 228 222)"/><ellipse cx="365" cy="150" rx="25" ry="25" fill="#fed976" filter="url(#bl10)"/><ellipse cx="350" cy="131" rx="9" ry="12" fill="#fd6f33" filter="url(#bl4)"/><ellipse cx="368" cy="124" rx="22" ry="6" fill="#fea546" filter="url(#bl4)" transform="rotate(-8 368 124)"/><ellipse cx="415" cy="103" rx="40" ry="9" fill="#feab49" filter="url(#bl5)" transform="rotate(-38 415 103)"/><ellipse cx="430" cy="140" rx="45" ry="9" fill="#fed976" filter="url(#bl7)" transform="rotate(12 430 140)"/><ellipse cx="360" cy="182" rx="18" ry="20" fill="#fede80" filter="url(#bl8)"/><ellipse cx="585" cy="172" rx="16" ry="18" fill="#fee187" filter="url(#bl8)"/><ellipse cx="80" cy="296" rx="62" ry="22" fill="#fee187" filter="url(#bl4)" transform="rotate(-12 80 296)"/><ellipse cx="36" cy="295" rx="13" ry="11" fill="#fee187" filter="url(#bl3)"/></g><path d="M451.0,91.0 L453.0,90.5 L455.0,93.0 L458.0,92.0 L459.3,96.0 L457.5,100.0 L458.0,104.0 L455.0,107.0 L453.0,103.0 L451.5,100.0 L449.0,99.0 L447.7,96.0 L450.0,95.0Z M490.0,85.0 L491.3,88.0 L490.5,94.0 L492.5,100.0 L491.0,105.0 L488.0,108.0 L486.0,112.5 L484.5,109.0 L485.0,105.0 L481.0,102.0 L485.0,100.5 L488.0,96.0 L489.0,90.0Z M512.0,95.0 L514.0,96.0 L513.0,100.0 L511.0,104.0 L509.0,107.0 L508.4,103.0 L510.0,99.0Z" fill="#3b87c9" opacity="1"/><path d="M251.0,179.0 L254.0,179.0 L254.0,185.5 L251.0,186.0Z M207.3,224.0 L210.7,220.7 L210.0,234.0 L206.5,232.5Z M168.0,181.0 L175.0,176.0 L172.0,184.0Z" fill="#acbccb"/><path d="M42.0,108.9 L43.5,112.7 L47.3,115.6 L52.2,115.6 L57.0,119.0 L63.7,120.4 L69.5,119.5 L75.3,116.6 L78.2,113.7 L76.3,113.4 L71.4,115.6 L65.7,116.9 L58.9,116.1 L53.1,114.9 L49.3,114.6 L45.4,113.7 L43.0,110.8Z" fill="#3e8fd2"/><path d="M127.0,57.6 L132.0,59.0 L137.0,60.0 L141.0,63.0 L140.0,69.0 L145.0,74.0 L149.0,77.0 L155.0,78.5 L161.0,79.0 L168.0,78.0 L175.0,77.0 L183.0,80.0 L189.0,77.0 L188.0,70.0 L192.0,68.0 L199.0,70.0 L201.0,78.0 L198.0,84.0 L195.0,94.0 L205.0,92.0 L210.0,97.0 L216.0,101.0 L218.0,97.0 L225.0,99.0 L232.0,105.0 L235.0,110.0 L239.0,112.0 L241.0,117.0 L251.0,120.0 L255.0,123.0 L257.0,131.0 L263.0,132.0 L271.0,135.0 L275.0,133.0 L279.0,136.0 L278.0,140.0 L281.0,140.0 L282.0,133.0 L293.0,136.0 L303.0,139.0 L306.0,143.0 L315.0,148.0 L318.0,153.0 L327.0,155.0 L332.0,157.0 L333.0,161.0 L329.0,164.0 L325.0,172.0 L322.0,170.0 L318.0,166.0 L313.0,165.0 L307.0,162.0 L306.0,167.0 L303.0,170.0 L300.0,174.0 L301.0,180.0 L303.0,183.0 L295.0,186.0 L287.0,189.0 L279.0,191.0 L273.0,195.0 L263.0,195.0 L255.0,197.0 L249.0,199.0 L247.0,202.0 L247.0,206.0 L243.0,210.0 L244.0,214.0 L243.0,221.0 L237.0,224.0 L235.0,230.0 L229.0,231.0 L225.0,237.0 L217.0,242.0 L212.0,248.0 L203.0,253.0 L200.0,252.0 L207.0,245.0 L210.0,238.0 L211.0,228.0 L214.0,218.0 L218.0,210.0 L224.0,204.7 L231.0,200.5 L237.7,193.7 L242.4,185.3 L241.0,180.0 L237.0,178.5 L232.6,179.4 L226.0,183.6 L222.0,185.5 L219.0,187.8 L217.5,192.0 L212.4,191.0 L207.0,187.8 L199.0,185.0 L190.5,180.0 L182.0,175.0 L175.0,176.0 L168.0,179.0 L160.0,181.0 L152.0,184.0 L146.0,186.0 L141.5,187.0 L143.0,192.0 L146.0,196.0 L150.0,198.0 L153.6,198.8 L155.0,203.0 L156.0,208.0 L153.6,215.7 L149.0,222.0 L144.0,230.0 L137.0,235.0 L129.5,239.8 L122.0,243.0 L115.0,244.0 L105.0,248.0 L95.0,250.0 L87.0,248.0 L83.0,242.0 L76.0,244.0 L69.0,242.0 L62.0,239.0 L59.0,234.0 L51.0,228.0 L58.0,220.0 L61.0,212.0 L56.0,202.0 L57.0,196.0 L52.0,190.0 L56.0,185.0 L60.0,182.0 L59.0,176.0 L54.0,174.0 L50.0,170.0 L44.0,163.0 L36.0,158.0 L29.0,150.0 L24.0,146.0 L26.0,143.0 L25.0,139.0 L29.0,135.0 L41.0,136.0 L47.0,140.0 L52.0,138.0 L65.0,134.0 L64.0,129.0 L69.0,126.0 L79.0,123.0 L85.0,120.0 L80.0,114.0 L77.0,116.0 L67.0,119.0 L57.0,121.0 L51.0,114.0 L54.0,112.0 L52.0,109.0 L56.0,101.0 L64.0,95.0 L67.0,98.0 L75.0,92.0 L84.0,87.6 L90.0,95.0 L88.0,97.0 L92.0,100.0 L99.0,94.0 L107.0,87.0 L113.0,85.0 L116.0,81.0 L120.0,75.0 L119.0,70.0 L122.0,66.0 L123.0,61.0Z M165.6,204.8 L163.0,215.7 L160.0,224.0 L157.0,230.0 L154.8,239.8 L149.0,242.5 L144.0,244.6 L141.5,250.0 L139.0,254.0 L135.5,254.0 L137.0,249.0 L140.0,244.6 L144.0,237.0 L147.6,230.0 L151.0,222.0 L153.6,215.7 L157.0,210.0 L159.6,206.0 L162.0,204.5Z M130.0,257.0 L134.0,262.0 L137.0,268.0 L142.0,271.0 L141.0,277.0 L133.0,276.0 L129.0,280.0 L123.0,274.0 L117.0,273.0 L112.0,271.0 L115.0,268.0 L123.0,266.0 L128.0,261.0Z M44.0,287.0 L56.0,287.0 L65.0,292.0 L73.0,295.0 L79.0,290.0 L84.0,291.0 L89.0,294.0 L97.0,291.0 L105.0,284.0 L109.0,279.0 L113.0,279.0 L115.0,286.0 L113.0,292.0 L107.0,296.0 L100.0,302.0 L95.0,310.0 L91.0,313.0 L85.0,308.0 L77.0,306.0 L73.0,302.0 L68.0,304.0 L63.0,306.0 L59.0,300.0 L54.0,299.0 L49.0,298.0 L46.0,294.0 L44.0,291.0Z M33.0,288.0 L41.0,289.0 L44.0,293.0 L39.0,299.0 L32.0,302.0 L28.0,298.0 L31.0,293.0Z M33.0,263.0 L25.0,268.0 L29.0,273.0 L39.0,275.0 L48.0,268.0 L50.0,258.0 L46.0,254.0 L41.0,260.0Z M341.0,138.0 L346.0,132.0 L349.0,126.0 L356.0,121.0 L357.0,118.0 L367.0,119.0 L377.0,116.0 L387.0,114.0 L395.0,111.0 L407.0,110.0 L410.0,105.0 L417.0,98.0 L420.0,90.0 L427.0,88.0 L431.0,84.0 L439.0,80.0 L447.0,76.0 L451.0,74.0 L456.0,77.0 L461.0,78.0 L469.0,75.0 L481.0,72.0 L491.0,76.0 L501.0,78.0 L507.0,76.0 L515.0,78.0 L521.0,77.0 L526.0,82.0 L528.0,92.0 L531.0,102.0 L528.0,110.0 L532.0,120.0 L533.0,132.0 L534.0,140.0 L531.0,143.0 L534.0,150.0 L546.0,151.0 L558.0,153.5 L565.5,156.0 L571.0,153.5 L576.0,159.0 L582.0,163.0 L579.0,167.0 L582.0,169.0 L590.0,159.0 L600.0,161.0 L603.0,166.0 L599.0,175.0 L600.0,182.0 L596.0,188.0 L594.5,196.0 L587.0,199.0 L577.0,201.0 L571.0,197.0 L565.5,203.0 L573.0,207.5 L577.0,212.0 L585.0,215.0 L592.5,219.0 L597.0,223.0 L605.0,219.0 L613.0,223.0 L617.6,228.7 L625.0,227.0 L633.0,230.6 L639.0,228.7 L647.5,225.0 L651.0,225.0 L651.0,243.0 L647.5,243.0 L633.0,239.0 L625.0,238.0 L615.7,240.0 L608.0,244.0 L594.5,241.0 L584.8,239.0 L577.0,236.0 L566.5,232.5 L559.8,224.8 L552.0,217.0 L546.0,207.5 L538.5,200.0 L529.0,193.0 L517.0,194.0 L507.7,194.0 L505.0,191.0 L508.8,188.3 L505.0,187.6 L499.4,182.5 L493.6,184.0 L489.3,181.8 L484.0,180.4 L482.0,176.0 L479.0,171.7 L477.0,168.0 L473.4,168.8 L466.0,167.3 L460.4,164.5 L454.6,162.3 L448.8,159.4 L445.2,160.0 L443.7,167.3 L437.2,166.6 L434.3,163.7 L429.7,166.7 L424.0,170.4 L416.7,172.5 L409.5,171.8 L407.3,174.7 L406.6,179.8 L403.7,183.4 L400.8,188.4 L398.0,187.7 L397.0,180.5 L395.0,179.8 L393.6,184.8 L391.4,192.0 L393.6,195.0 L390.0,205.0 L386.4,212.0 L382.0,218.0 L379.0,222.0 L374.8,225.0 L369.0,229.6 L364.0,234.7 L362.5,233.0 L366.9,229.6 L372.0,223.0 L375.5,221.0 L376.3,216.6 L380.6,211.6 L382.8,205.0 L382.0,199.0 L377.7,201.4 L372.6,200.0 L367.6,203.6 L366.0,199.0 L364.0,195.0 L358.9,196.4 L353.9,192.8 L349.5,187.7 L349.5,182.0 L351.7,175.4 L356.0,174.7 L356.7,171.0 L361.0,169.0 L359.6,163.9 L356.0,162.4 L348.8,167.5 L342.3,165.0 L339.4,160.0 L344.5,155.0 L351.7,156.0 L354.6,153.0 L348.8,151.0 L345.0,147.0 L340.8,144.0 L339.4,140.0Z M393.6,196.4 L398.7,195.0 L401.6,200.7 L397.2,208.0 L393.6,205.0Z M330.0,175.5 L334.0,175.0 L338.0,177.0 L337.0,178.5 L332.0,178.0Z M346.6,196.4 L350.0,194.0 L352.4,197.0 L349.5,199.0Z" fill="none" stroke="#454545" stroke-width="1.25" stroke-linejoin="round"/><path d="M446.0,162.0 L450.0,161.0 L453.0,165.0 L451.0,168.0 L447.0,167.0Z M452.0,166.0 L456.0,164.0 L460.0,167.0 L458.0,171.0 L454.0,170.0Z M456.0,169.0 L461.0,168.0 L464.0,171.0 L462.0,174.0 L458.0,173.0Z M461.0,166.5 L466.0,168.0 L468.0,171.0 L465.0,172.0 L462.0,170.0Z M464.0,173.0 L469.0,172.0 L473.0,175.0 L471.0,178.0 L466.0,177.0Z M469.0,169.0 L474.0,170.0 L477.0,173.0 L475.0,176.0 L471.0,174.0Z M472.0,176.0 L477.0,176.0 L480.0,179.0 L477.0,181.0 L473.0,180.0Z M475.5,185.4 L479.9,182.5 L481.3,186.9 L485.0,189.8 L490.0,192.0 L487.0,192.6 L482.0,190.5 L477.7,187.6Z M508.0,190.5 L514.0,187.5 L522.0,186.5 L530.0,186.5 L533.5,188.5 L530.0,191.0 L522.0,190.5 L515.0,191.5 L509.0,192.5Z" fill="#fee8a2" stroke="#454545" stroke-width="1.2" stroke-linejoin="round"/><path d="M11.0,65.0 L17.0,72.0 L15.0,82.0 L19.0,92.0 L29.0,91.0 L36.0,92.0 L36.0,104.0 L33.0,110.0 L39.0,120.0 L41.0,132.0 L42.0,138.0 L49.0,148.0 L61.0,154.0 L64.0,162.0 L51.0,166.0 L52.0,172.0 L59.0,176.0 M64.0,162.0 L73.0,168.0 L89.0,161.0 L88.0,159.0 L95.0,158.0 L103.0,166.0 L106.0,174.0 L103.0,184.0 L99.0,192.0 L97.0,202.0 L101.0,202.0 L102.0,210.0 L100.0,216.0 L109.0,219.0 L115.0,222.0 L113.0,225.0 L103.0,230.0 L95.0,235.0 L89.0,232.0 L83.0,239.0 L76.0,239.0 L75.0,243.0 M11.0,168.0 L21.0,166.0 L27.0,170.0 L35.0,176.0 L49.0,178.0 L56.0,185.0 M395.0,111.0 L429.0,166.0 M530.0,54.0 L537.0,55.0 L543.0,57.0 M531.0,184.5 L539.0,176.5 L546.8,168.1 L554.2,159.5 L561.4,150.7 L568.2,141.6 L574.8,132.3 L581.0,122.8 L586.8,113.0 L592.3,103.0 L597.5,92.9 L598.0,84.0 L602.0,83.0 L605.0,80.0 L608.0,76.0 L611.0,72.0 L612.0,66.0 L615.0,61.0 L618.0,58.0 L621.0,54.0" fill="none" stroke="#4a4a4a" stroke-width="1.1" stroke-linejoin="round"/><g fill="none" stroke="#4a4a4a" stroke-linecap="round"><path d="M151,272 L156,271.5" stroke-width="1.6"/><path d="M157,271.3 L162,270.8" stroke-width="1.6"/><path d="M353,243 L358,238.8" stroke-width="2.6"/><path d="M349.8,244 L351.2,242.6" stroke-width="1"/><path d="M251.4,230 L251.6,231.5" stroke-width="1"/><path d="M256.5,233.5 L256.6,234.5" stroke-width="1"/><path d="M275,249.5 L276,250" stroke-width="1"/><path d="M278.2,252.3 L278.3,253.2" stroke-width="1"/><path d="M294,256.1 L294.5,256.5" stroke-width="1"/><path d="M298.4,259 L298.6,259.5" stroke-width="1"/><path d="M302,256.8 L302.5,257.2" stroke-width="1"/><path d="M312.2,258.2 L312.4,259" stroke-width="1"/><path d="M316.5,257.8 L317.5,257.6" stroke-width="1"/><path d="M326.3,255 L327.2,254.8" stroke-width="1"/><path d="M329.5,255.4 L331,255.2" stroke-width="1"/><path d="M334.3,253.5 L335,253.2" stroke-width="1"/><path d="M340.8,249.9 L341.3,249.6" stroke-width="1"/><path d="M344.3,248.2 L345.2,247.8" stroke-width="1"/><path d="M330,157.5 L333.6,159.5" stroke-width="1.5"/><path d="M260,226 L261,229" stroke-width="1"/></g><g clip-path="url(#cland)"><circle cx="304.5" cy="-50" r="206" fill="none" stroke="#c9c9c9" stroke-width="0.9" stroke-dasharray="7 2" opacity="0.8"/></g></g><rect x="10" y="53" width="639" height="291" fill="none" stroke="#000" stroke-width="2"/><text class="b" x="20.9" y="76.6" font-size="19.5">2040s</text></g>
<g transform="translate(0,617)"><g clip-path="url(#cpanel)"><rect x="9" y="52" width="642" height="294" fill="url(#goc3)"/><ellipse cx="310" cy="204" rx="55" ry="14" fill="#fcd074" filter="url(#bl9)"/><ellipse cx="40" cy="330" rx="60" ry="25" fill="#feb14b" filter="url(#bl14)"/><ellipse cx="600" cy="300" rx="60" ry="40" fill="#fdd584" filter="url(#bl16)"/><path d="M394.0,193.0 L436.0,169.5 L480.0,178.0 L520.0,198.0 L560.0,235.0 L500.0,262.0 L440.0,262.0 L395.0,245.0 L372.0,232.0 L386.0,215.0Z" fill="#fddc8a" filter="url(#bl6)"/><path d="M182.7,52.0 L194.5,52.0 L187.7,62.6Z M226.0,97.0 L232.0,99.0 L241.0,106.0 L239.0,110.0 L232.0,105.0Z M218.0,188.5 L222.0,184.5 L226.0,182.6 L232.6,178.4 L242.0,179.0 L243.4,185.3 L238.7,194.7 L232.0,201.5 L224.0,205.7 L221.0,203.0 L220.0,196.0Z M8.0,216.0 L33.0,218.0 L36.0,222.0 L29.0,226.0 L28.0,229.0 L39.0,232.0 L42.0,235.0 L41.0,241.0 L35.0,244.0 L30.0,250.0 L22.0,246.0 L8.0,238.0Z M49.0,245.0 L58.0,248.0 L50.0,260.0Z M197.0,82.0 L205.0,81.0 L221.0,94.0 L215.0,100.0 L205.0,92.0 L195.0,94.0Z M283.0,128.0 L296.6,128.0 L296.6,136.0 L283.0,133.0Z M308.0,141.0 L317.0,141.0 L317.0,150.0 L308.0,146.0Z M305.0,160.0 L315.0,160.0 L315.0,168.0 L305.0,168.0Z M142.7,188.0 L156.0,189.0 L153.6,196.4 L146.3,198.8Z M142.7,227.7 L153.6,213.0 L156.0,215.7 L147.6,232.5Z M137.0,262.0 L143.0,266.0 L142.0,271.0Z M103.0,275.0 L109.0,279.0 L97.0,291.0 L95.0,288.0Z M115.0,282.0 L122.0,286.0 L117.0,296.0 L113.0,293.0Z M404.3,81.0 L410.0,75.9 L408.7,60.7 L413.0,51.0 L463.0,51.0 L465.0,65.0 L458.0,77.0 L447.7,75.9 L431.0,84.0 L420.0,90.0 L412.0,98.0 L409.5,107.0 L407.0,100.0 L410.5,94.0 L406.0,88.0Z M369.0,117.0 L391.0,106.0 L396.0,110.0 L395.0,112.0Z M344.5,147.0 L353.9,151.6 L354.6,155.0 L347.0,154.5Z M348.8,167.5 L356.0,162.4 L361.0,166.0 L361.0,171.0 L356.7,174.7 L350.0,174.7Z M361.0,195.7 L364.7,196.4 L365.4,201.4 L361.8,200.7Z M408.8,172.5 L435.5,169.0 L395.0,190.6 L390.0,205.0 L393.0,195.0Z M611.0,346.0 L652.0,310.0 L652.0,346.0Z" fill="#acbccb"/><g fill="none" stroke="#a9a9ad" stroke-width="1" opacity="0.92"><line x1="247.9" y1="6.6" x2="-133.9" y2="388.4"/><line x1="264.5" y1="19.3" x2="-5.5" y2="486.9"/><line x1="283.8" y1="27.3" x2="144.0" y2="548.9"/><line x1="304.5" y1="30.0" x2="304.5" y2="570.0"/><line x1="325.2" y1="27.3" x2="465.0" y2="548.9"/><line x1="344.5" y1="19.3" x2="614.5" y2="486.9"/><line x1="362.0" y1="5.6" x2="750.5" y2="380.7"/><circle cx="304.5" cy="-50" r="185"/><circle cx="304.5" cy="-50" r="321"/><circle cx="304.5" cy="-50" r="454"/></g><path d="M8.0,51.0 L176.0,51.0 L175.0,54.0 L185.0,58.0 L188.0,67.0 L189.0,77.0 L183.0,80.0 L160.0,100.0 L100.0,150.0 L70.0,200.0 L62.0,239.0 L60.0,240.0 L49.0,245.0 L46.0,254.0 L41.0,260.0 L33.0,263.0 L34.0,256.0 L40.0,252.0 L35.0,244.0 L41.0,241.0 L42.0,235.0 L39.0,232.0 L28.0,229.0 L29.0,226.0 L36.0,222.0 L33.0,218.0 L24.0,219.0 L17.0,217.0 L8.0,214.0Z M8.0,232.0 L18.0,236.0 L22.0,241.0 L8.0,238.0Z M462.0,51.0 L463.6,55.0 L465.0,65.0 L462.0,70.8 L457.8,77.3 L459.0,80.0 L480.0,76.0 L515.0,85.0 L522.0,120.0 L528.0,150.0 L540.0,165.0 L555.0,180.0 L560.0,195.0 L563.0,210.0 L570.0,218.0 L580.0,225.0 L600.0,234.0 L620.0,236.0 L652.0,238.0 L652.0,51.0Z M404.0,51.0 L404.0,54.0 L410.0,56.0 L413.0,61.0 L409.4,67.0 L414.5,70.8 L416.6,78.0 L423.9,78.7 L426.7,73.7 L425.3,66.5 L426.7,59.0 L427.3,55.6 L427.6,51.0Z M428.6,51.0 L428.2,55.6 L427.6,62.0 L428.9,69.3 L434.7,72.0 L439.0,71.5 L443.4,75.0 L448.4,73.7 L450.6,70.8 L454.0,73.7 L457.8,67.9 L459.3,60.7 L458.6,55.6 L459.0,51.0Z M301.0,127.6 L307.0,125.0 L311.0,127.6 L309.0,130.0 L303.0,130.0Z M223.0,77.0 L229.0,75.0 L235.0,80.0 L238.0,85.0 L232.0,87.0 L225.0,84.0Z M224.0,89.0 L228.0,88.0 L230.0,95.0 L226.0,95.0Z M239.0,87.0 L247.0,91.0 L245.0,93.6 L240.0,90.0Z" fill="#9b9b9b" stroke="#4a4a4a" stroke-width="1.1" stroke-linejoin="round"/><path d="M560.0,84.0 L566.0,81.0 L575.0,82.0 L587.0,84.0 L585.0,88.0 L578.0,86.0 L572.0,88.0 L580.0,92.0 L586.0,94.0 L576.0,94.0 L566.0,91.0 L558.0,88.0Z M531.0,82.0 L535.0,84.0 L539.0,90.0 L536.0,89.0Z M601.0,54.0 L607.0,56.0 L603.0,58.0Z M611.0,54.0 L627.0,53.0 L622.0,64.0 L618.0,78.0 L615.0,68.0Z M633.0,53.0 L648.0,60.0 L648.0,67.0 L639.0,64.0Z M600.0,183.0 L606.0,183.5 L606.0,185.0 L600.0,185.0Z" fill="#3b93d6"/><g clip-path="url(#cland)"><rect x="9" y="52" width="642" height="294" fill="#fed682"/><ellipse cx="95" cy="150" rx="60" ry="80" fill="#feae4a" filter="url(#bl14)"/><ellipse cx="80" cy="215" rx="40" ry="35" fill="#fea546" filter="url(#bl10)"/><ellipse cx="75" cy="110" rx="30" ry="20" fill="#fec965" filter="url(#bl10)"/><ellipse cx="125" cy="150" rx="30" ry="55" fill="#fd7435" filter="url(#bl12)"/><ellipse cx="195" cy="125" rx="75" ry="55" fill="#e9261f" filter="url(#bl16)" transform="rotate(20 195 125)"/><ellipse cx="160" cy="85" rx="42" ry="28" fill="#da141e" filter="url(#bl12)" transform="rotate(15 160 85)"/><ellipse cx="210" cy="165" rx="50" ry="22" fill="#e31a1c" filter="url(#bl10)" transform="rotate(10 210 165)"/><ellipse cx="250" cy="140" rx="75" ry="42" fill="#980026" filter="url(#bl12)" transform="rotate(25 250 140)"/><ellipse cx="205" cy="105" rx="45" ry="20" fill="#c20325" filter="url(#bl10)" transform="rotate(30 205 105)"/><ellipse cx="280" cy="152" rx="40" ry="24" fill="#800026" filter="url(#bl8)" transform="rotate(20 280 152)"/><ellipse cx="321" cy="165" rx="10" ry="10" fill="#d41020" filter="url(#bl5)"/><ellipse cx="130" cy="222" rx="25" ry="14" fill="#fc5b2e" filter="url(#bl7)" transform="rotate(-20 130 222)"/><ellipse cx="137" cy="205" rx="14" ry="5" fill="#ffe998" filter="url(#bl4)" transform="rotate(35 137 205)"/><ellipse cx="152" cy="214" rx="7" ry="7" fill="#f13724" filter="url(#bl4)"/><ellipse cx="150" cy="228" rx="10" ry="28" fill="#fd9c42" filter="url(#bl4)" transform="rotate(30 150 228)"/><ellipse cx="228" cy="222" rx="16" ry="30" fill="#fd7435" filter="url(#bl6)" transform="rotate(25 228 222)"/><ellipse cx="70" cy="245" rx="30" ry="10" fill="#fd8d3c" filter="url(#bl5)"/><ellipse cx="38" cy="266" rx="14" ry="12" fill="#fd7435" filter="url(#bl4)"/><ellipse cx="80" cy="296" rx="62" ry="22" fill="#feb14b" filter="url(#bl4)" transform="rotate(-12 80 296)"/><ellipse cx="36" cy="295" rx="13" ry="11" fill="#fea546" filter="url(#bl3)"/><ellipse cx="128" cy="268" rx="18" ry="14" fill="#feb14b" filter="url(#bl4)"/><ellipse cx="375" cy="138" rx="34" ry="14" fill="#fd8d3c" filter="url(#bl7)" transform="rotate(-8 375 138)"/><ellipse cx="372" cy="128" rx="30" ry="11" fill="#e9261f" filter="url(#bl5)" transform="rotate(-8 372 128)"/><ellipse cx="352" cy="142" rx="9" ry="16" fill="#ed2f22" filter="url(#bl5)" transform="rotate(10 352 142)"/><ellipse cx="372" cy="123" rx="26" ry="6" fill="#8f0026" filter="url(#bl3)" transform="rotate(-8 372 123)"/><ellipse cx="351" cy="133" rx="7" ry="12" fill="#980026" filter="url(#bl3)" transform="rotate(20 351 133)"/><ellipse cx="420" cy="100" rx="30" ry="7" fill="#e9261f" filter="url(#bl4)" transform="rotate(-38 420 100)"/><ellipse cx="440" cy="88" rx="22" ry="8" fill="#fd8d3c" filter="url(#bl6)" transform="rotate(-38 440 88)"/><ellipse cx="490" cy="82" rx="40" ry="10" fill="#feab49" filter="url(#bl6)"/><ellipse cx="365" cy="185" rx="20" ry="16" fill="#feb751" filter="url(#bl8)"/><ellipse cx="440" cy="140" rx="40" ry="8" fill="#febd58" filter="url(#bl6)" transform="rotate(10 440 140)"/><ellipse cx="565" cy="185" rx="30" ry="20" fill="#fec05b" filter="url(#bl10)"/><ellipse cx="590" cy="172" rx="14" ry="16" fill="#fea546" filter="url(#bl7)"/><ellipse cx="625" cy="233.5" rx="45" ry="12" fill="#fec965" filter="url(#bl5)" transform="rotate(5 625 233.5)"/><ellipse cx="583" cy="224" rx="32" ry="11" fill="#fec965" filter="url(#bl5)" transform="rotate(32 583 224)"/></g><path d="M451.0,91.0 L453.0,90.5 L455.0,93.0 L458.0,92.0 L459.3,96.0 L457.5,100.0 L458.0,104.0 L455.0,107.0 L453.0,103.0 L451.5,100.0 L449.0,99.0 L447.7,96.0 L450.0,95.0Z M490.0,85.0 L491.3,88.0 L490.5,94.0 L492.5,100.0 L491.0,105.0 L488.0,108.0 L486.0,112.5 L484.5,109.0 L485.0,105.0 L481.0,102.0 L485.0,100.5 L488.0,96.0 L489.0,90.0Z M512.0,95.0 L514.0,96.0 L513.0,100.0 L511.0,104.0 L509.0,107.0 L508.4,103.0 L510.0,99.0Z" fill="#3b87c9" opacity="1"/><path d="M251.0,179.0 L254.0,179.0 L254.0,185.5 L251.0,186.0Z M207.3,224.0 L210.7,220.7 L210.0,234.0 L206.5,232.5Z M168.0,181.0 L175.0,176.0 L172.0,184.0Z" fill="#acbccb"/><path d="M42.0,108.9 L43.5,112.7 L47.3,115.6 L52.2,115.6 L57.0,119.0 L63.7,120.4 L69.5,119.5 L75.3,116.6 L78.2,113.7 L76.3,113.4 L71.4,115.6 L65.7,116.9 L58.9,116.1 L53.1,114.9 L49.3,114.6 L45.4,113.7 L43.0,110.8Z" fill="#3e8fd2"/><path d="M127.0,57.6 L132.0,59.0 L137.0,60.0 L141.0,63.0 L140.0,69.0 L145.0,74.0 L149.0,77.0 L155.0,78.5 L161.0,79.0 L168.0,78.0 L175.0,77.0 L183.0,80.0 L189.0,77.0 L188.0,70.0 L192.0,68.0 L199.0,70.0 L201.0,78.0 L198.0,84.0 L195.0,94.0 L205.0,92.0 L210.0,97.0 L216.0,101.0 L218.0,97.0 L225.0,99.0 L232.0,105.0 L235.0,110.0 L239.0,112.0 L241.0,117.0 L251.0,120.0 L255.0,123.0 L257.0,131.0 L263.0,132.0 L271.0,135.0 L275.0,133.0 L279.0,136.0 L278.0,140.0 L281.0,140.0 L282.0,133.0 L293.0,136.0 L303.0,139.0 L306.0,143.0 L315.0,148.0 L318.0,153.0 L327.0,155.0 L332.0,157.0 L333.0,161.0 L329.0,164.0 L325.0,172.0 L322.0,170.0 L318.0,166.0 L313.0,165.0 L307.0,162.0 L306.0,167.0 L303.0,170.0 L300.0,174.0 L301.0,180.0 L303.0,183.0 L295.0,186.0 L287.0,189.0 L279.0,191.0 L273.0,195.0 L263.0,195.0 L255.0,197.0 L249.0,199.0 L247.0,202.0 L247.0,206.0 L243.0,210.0 L244.0,214.0 L243.0,221.0 L237.0,224.0 L235.0,230.0 L229.0,231.0 L225.0,237.0 L217.0,242.0 L212.0,248.0 L203.0,253.0 L200.0,252.0 L207.0,245.0 L210.0,238.0 L211.0,228.0 L214.0,218.0 L218.0,210.0 L224.0,204.7 L231.0,200.5 L237.7,193.7 L242.4,185.3 L241.0,180.0 L237.0,178.5 L232.6,179.4 L226.0,183.6 L222.0,185.5 L219.0,187.8 L217.5,192.0 L212.4,191.0 L207.0,187.8 L199.0,185.0 L190.5,180.0 L182.0,175.0 L175.0,176.0 L168.0,179.0 L160.0,181.0 L152.0,184.0 L146.0,186.0 L141.5,187.0 L143.0,192.0 L146.0,196.0 L150.0,198.0 L153.6,198.8 L155.0,203.0 L156.0,208.0 L153.6,215.7 L149.0,222.0 L144.0,230.0 L137.0,235.0 L129.5,239.8 L122.0,243.0 L115.0,244.0 L105.0,248.0 L95.0,250.0 L87.0,248.0 L83.0,242.0 L76.0,244.0 L69.0,242.0 L62.0,239.0 L59.0,234.0 L51.0,228.0 L58.0,220.0 L61.0,212.0 L56.0,202.0 L57.0,196.0 L52.0,190.0 L56.0,185.0 L60.0,182.0 L59.0,176.0 L54.0,174.0 L50.0,170.0 L44.0,163.0 L36.0,158.0 L29.0,150.0 L24.0,146.0 L26.0,143.0 L25.0,139.0 L29.0,135.0 L41.0,136.0 L47.0,140.0 L52.0,138.0 L65.0,134.0 L64.0,129.0 L69.0,126.0 L79.0,123.0 L85.0,120.0 L80.0,114.0 L77.0,116.0 L67.0,119.0 L57.0,121.0 L51.0,114.0 L54.0,112.0 L52.0,109.0 L56.0,101.0 L64.0,95.0 L67.0,98.0 L75.0,92.0 L84.0,87.6 L90.0,95.0 L88.0,97.0 L92.0,100.0 L99.0,94.0 L107.0,87.0 L113.0,85.0 L116.0,81.0 L120.0,75.0 L119.0,70.0 L122.0,66.0 L123.0,61.0Z M165.6,204.8 L163.0,215.7 L160.0,224.0 L157.0,230.0 L154.8,239.8 L149.0,242.5 L144.0,244.6 L141.5,250.0 L139.0,254.0 L135.5,254.0 L137.0,249.0 L140.0,244.6 L144.0,237.0 L147.6,230.0 L151.0,222.0 L153.6,215.7 L157.0,210.0 L159.6,206.0 L162.0,204.5Z M130.0,257.0 L134.0,262.0 L137.0,268.0 L142.0,271.0 L141.0,277.0 L133.0,276.0 L129.0,280.0 L123.0,274.0 L117.0,273.0 L112.0,271.0 L115.0,268.0 L123.0,266.0 L128.0,261.0Z M44.0,287.0 L56.0,287.0 L65.0,292.0 L73.0,295.0 L79.0,290.0 L84.0,291.0 L89.0,294.0 L97.0,291.0 L105.0,284.0 L109.0,279.0 L113.0,279.0 L115.0,286.0 L113.0,292.0 L107.0,296.0 L100.0,302.0 L95.0,310.0 L91.0,313.0 L85.0,308.0 L77.0,306.0 L73.0,302.0 L68.0,304.0 L63.0,306.0 L59.0,300.0 L54.0,299.0 L49.0,298.0 L46.0,294.0 L44.0,291.0Z M33.0,288.0 L41.0,289.0 L44.0,293.0 L39.0,299.0 L32.0,302.0 L28.0,298.0 L31.0,293.0Z M33.0,263.0 L25.0,268.0 L29.0,273.0 L39.0,275.0 L48.0,268.0 L50.0,258.0 L46.0,254.0 L41.0,260.0Z M341.0,138.0 L346.0,132.0 L349.0,126.0 L356.0,121.0 L357.0,118.0 L367.0,119.0 L377.0,116.0 L387.0,114.0 L395.0,111.0 L407.0,110.0 L410.0,105.0 L417.0,98.0 L420.0,90.0 L427.0,88.0 L431.0,84.0 L439.0,80.0 L447.0,76.0 L451.0,74.0 L456.0,77.0 L461.0,78.0 L469.0,75.0 L481.0,72.0 L491.0,76.0 L501.0,78.0 L507.0,76.0 L515.0,78.0 L521.0,77.0 L526.0,82.0 L528.0,92.0 L531.0,102.0 L528.0,110.0 L532.0,120.0 L533.0,132.0 L534.0,140.0 L531.0,143.0 L534.0,150.0 L546.0,151.0 L558.0,153.5 L565.5,156.0 L571.0,153.5 L576.0,159.0 L582.0,163.0 L579.0,167.0 L582.0,169.0 L590.0,159.0 L600.0,161.0 L603.0,166.0 L599.0,175.0 L600.0,182.0 L596.0,188.0 L594.5,196.0 L587.0,199.0 L577.0,201.0 L571.0,197.0 L565.5,203.0 L573.0,207.5 L577.0,212.0 L585.0,215.0 L592.5,219.0 L597.0,223.0 L605.0,219.0 L613.0,223.0 L617.6,228.7 L625.0,227.0 L633.0,230.6 L639.0,228.7 L647.5,225.0 L651.0,225.0 L651.0,243.0 L647.5,243.0 L633.0,239.0 L625.0,238.0 L615.7,240.0 L608.0,244.0 L594.5,241.0 L584.8,239.0 L577.0,236.0 L566.5,232.5 L559.8,224.8 L552.0,217.0 L546.0,207.5 L538.5,200.0 L529.0,193.0 L517.0,194.0 L507.7,194.0 L505.0,191.0 L508.8,188.3 L505.0,187.6 L499.4,182.5 L493.6,184.0 L489.3,181.8 L484.0,180.4 L482.0,176.0 L479.0,171.7 L477.0,168.0 L473.4,168.8 L466.0,167.3 L460.4,164.5 L454.6,162.3 L448.8,159.4 L445.2,160.0 L443.7,167.3 L437.2,166.6 L434.3,163.7 L429.7,166.7 L424.0,170.4 L416.7,172.5 L409.5,171.8 L407.3,174.7 L406.6,179.8 L403.7,183.4 L400.8,188.4 L398.0,187.7 L397.0,180.5 L395.0,179.8 L393.6,184.8 L391.4,192.0 L393.6,195.0 L390.0,205.0 L386.4,212.0 L382.0,218.0 L379.0,222.0 L374.8,225.0 L369.0,229.6 L364.0,234.7 L362.5,233.0 L366.9,229.6 L372.0,223.0 L375.5,221.0 L376.3,216.6 L380.6,211.6 L382.8,205.0 L382.0,199.0 L377.7,201.4 L372.6,200.0 L367.6,203.6 L366.0,199.0 L364.0,195.0 L358.9,196.4 L353.9,192.8 L349.5,187.7 L349.5,182.0 L351.7,175.4 L356.0,174.7 L356.7,171.0 L361.0,169.0 L359.6,163.9 L356.0,162.4 L348.8,167.5 L342.3,165.0 L339.4,160.0 L344.5,155.0 L351.7,156.0 L354.6,153.0 L348.8,151.0 L345.0,147.0 L340.8,144.0 L339.4,140.0Z M393.6,196.4 L398.7,195.0 L401.6,200.7 L397.2,208.0 L393.6,205.0Z M330.0,175.5 L334.0,175.0 L338.0,177.0 L337.0,178.5 L332.0,178.0Z M346.6,196.4 L350.0,194.0 L352.4,197.0 L349.5,199.0Z" fill="none" stroke="#454545" stroke-width="1.25" stroke-linejoin="round"/><path d="M446.0,162.0 L450.0,161.0 L453.0,165.0 L451.0,168.0 L447.0,167.0Z M452.0,166.0 L456.0,164.0 L460.0,167.0 L458.0,171.0 L454.0,170.0Z M456.0,169.0 L461.0,168.0 L464.0,171.0 L462.0,174.0 L458.0,173.0Z M461.0,166.5 L466.0,168.0 L468.0,171.0 L465.0,172.0 L462.0,170.0Z M464.0,173.0 L469.0,172.0 L473.0,175.0 L471.0,178.0 L466.0,177.0Z M469.0,169.0 L474.0,170.0 L477.0,173.0 L475.0,176.0 L471.0,174.0Z M472.0,176.0 L477.0,176.0 L480.0,179.0 L477.0,181.0 L473.0,180.0Z M475.5,185.4 L479.9,182.5 L481.3,186.9 L485.0,189.8 L490.0,192.0 L487.0,192.6 L482.0,190.5 L477.7,187.6Z M508.0,190.5 L514.0,187.5 L522.0,186.5 L530.0,186.5 L533.5,188.5 L530.0,191.0 L522.0,190.5 L515.0,191.5 L509.0,192.5Z" fill="#fed682" stroke="#454545" stroke-width="1.2" stroke-linejoin="round"/><path d="M11.0,65.0 L17.0,72.0 L15.0,82.0 L19.0,92.0 L29.0,91.0 L36.0,92.0 L36.0,104.0 L33.0,110.0 L39.0,120.0 L41.0,132.0 L42.0,138.0 L49.0,148.0 L61.0,154.0 L64.0,162.0 L51.0,166.0 L52.0,172.0 L59.0,176.0 M64.0,162.0 L73.0,168.0 L89.0,161.0 L88.0,159.0 L95.0,158.0 L103.0,166.0 L106.0,174.0 L103.0,184.0 L99.0,192.0 L97.0,202.0 L101.0,202.0 L102.0,210.0 L100.0,216.0 L109.0,219.0 L115.0,222.0 L113.0,225.0 L103.0,230.0 L95.0,235.0 L89.0,232.0 L83.0,239.0 L76.0,239.0 L75.0,243.0 M11.0,168.0 L21.0,166.0 L27.0,170.0 L35.0,176.0 L49.0,178.0 L56.0,185.0 M395.0,111.0 L429.0,166.0 M530.0,54.0 L537.0,55.0 L543.0,57.0 M531.0,184.5 L539.0,176.5 L546.8,168.1 L554.2,159.5 L561.4,150.7 L568.2,141.6 L574.8,132.3 L581.0,122.8 L586.8,113.0 L592.3,103.0 L597.5,92.9 L598.0,84.0 L602.0,83.0 L605.0,80.0 L608.0,76.0 L611.0,72.0 L612.0,66.0 L615.0,61.0 L618.0,58.0 L621.0,54.0" fill="none" stroke="#4a4a4a" stroke-width="1.1" stroke-linejoin="round"/><g fill="none" stroke="#4a4a4a" stroke-linecap="round"><path d="M151,272 L156,271.5" stroke-width="1.6"/><path d="M157,271.3 L162,270.8" stroke-width="1.6"/><path d="M353,243 L358,238.8" stroke-width="2.6"/><path d="M349.8,244 L351.2,242.6" stroke-width="1"/><path d="M251.4,230 L251.6,231.5" stroke-width="1"/><path d="M256.5,233.5 L256.6,234.5" stroke-width="1"/><path d="M275,249.5 L276,250" stroke-width="1"/><path d="M278.2,252.3 L278.3,253.2" stroke-width="1"/><path d="M294,256.1 L294.5,256.5" stroke-width="1"/><path d="M298.4,259 L298.6,259.5" stroke-width="1"/><path d="M302,256.8 L302.5,257.2" stroke-width="1"/><path d="M312.2,258.2 L312.4,259" stroke-width="1"/><path d="M316.5,257.8 L317.5,257.6" stroke-width="1"/><path d="M326.3,255 L327.2,254.8" stroke-width="1"/><path d="M329.5,255.4 L331,255.2" stroke-width="1"/><path d="M334.3,253.5 L335,253.2" stroke-width="1"/><path d="M340.8,249.9 L341.3,249.6" stroke-width="1"/><path d="M344.3,248.2 L345.2,247.8" stroke-width="1"/><path d="M330,157.5 L333.6,159.5" stroke-width="1.5"/><path d="M260,226 L261,229" stroke-width="1"/></g><g clip-path="url(#cland)"><circle cx="304.5" cy="-50" r="206" fill="none" stroke="#c9c9c9" stroke-width="0.9" stroke-dasharray="7 2" opacity="0.8"/></g></g><rect x="10" y="53" width="639" height="291" fill="none" stroke="#000" stroke-width="2"/><text class="b" x="20.9" y="83.3" font-size="19.5">2080s</text></g>
<text class="b" x="9.5" y="33.4" font-size="24" textLength="215" lengthAdjust="spacingAndGlyphs">Temperature: Dec.</text>
<text class="b" x="364.6" y="33.4" font-size="24" textLength="403.8" lengthAdjust="spacingAndGlyphs">Land: HadCM; SST: Composite B1</text>
<g class="lg">
<text class="b" x="660.5" y="137.3" textLength="131.5" lengthAdjust="spacingAndGlyphs">Historical (Land)</text>
<rect x="681" y="153" width="33.5" height="35.5" fill="url(#lgland)"/>
<path d="M714.5,153.5h3 M714.5,171h3.5 M714.5,188h2" stroke="#000" stroke-width="1" fill="none"/>
<text x="724" y="159.3">+13°C</text><text x="724" y="195.4">-45°C</text>
<text class="b" x="669.3" y="232.8" textLength="114.5" lengthAdjust="spacingAndGlyphs">Historical SST</text>
<rect x="686" y="249.5" width="33.5" height="35" fill="url(#lgsst)"/>
<path d="M719.5,249.5h2.5 M719.5,267h2.5 M719.5,284.5h2.5" stroke="#000" stroke-width="1" fill="none"/>
<text x="728.5" y="255.6">26°C</text><text x="728.5" y="291">0°C</text>
<text class="b" x="696" y="633.9" textLength="60.5" lengthAdjust="spacingAndGlyphs">Change</text>
<rect x="681" y="650" width="33.5" height="39" fill="url(#lgchg)"/>
<path d="M714.5,650.5h3 M714.5,670h3 M714.5,688.5h3" stroke="#000" stroke-width="1" fill="none"/>
<text x="724" y="656.5">+12°C</text><text x="724" y="695.5">+0°C</text>
</g>
<g><rect x="660" y="803" width="87.5" height="149" fill="#34437b"/><g font-family="'Liberation Serif',serif" font-weight="bold" fill="#fff"><text x="667" y="819" font-size="14" textLength="74.5" lengthAdjust="spacing" style="fill:#fff;font-family:'Liberation Serif',serif">CLIMATE</text><text x="667" y="880" font-size="14" textLength="74.5" lengthAdjust="spacing" style="fill:#fff;font-family:'Liberation Serif',serif">IMPACTS</text><text x="670" y="947.3" font-size="14" textLength="68.5" lengthAdjust="spacing" style="fill:#fff;font-family:'Liberation Serif',serif">GROUP</text></g><rect x="667" y="823.5" width="74.5" height="40" fill="#6db5e6"/><g stroke="#34437b" stroke-width="0.9" fill="none"><path d="M670,823.5 l5,16"/><path d="M678,823.5 l5,16"/><path d="M686,823.5 l5,16"/><path d="M694,823.5 l5,16"/><path d="M702,823.5 l5,16"/><path d="M710,823.5 l5,16"/><path d="M718,823.5 l5,16"/><path d="M726,823.5 l5,16"/><path d="M734,823.5 l5,16"/></g><path d="M667,846 C675,843 683,842 690,838 L697,834 L703,832 L708,835 L713,833 L720,837 C728,840 735,841 741.5,843 L741.5,863.5 L667,863.5Z" fill="#34437b"/><path d="M689,839 L694,835 L696,838 L699,833 L703,832 L701,837 L706,836 L704,841 L710,838 L714,835 L718,837 L712,841 L707,846 L702,843 L698,842 L693,842Z" fill="#fff"/><path d="M667,847 C680,845 695,848 706,858 C715,850 730,846 741.5,846 L741.5,863.5 L667,863.5Z" fill="#fff"/><g stroke="#34437b" stroke-width="1.6" fill="none"><path d="M667,852 C680,850 692,853 702,861"/><path d="M667,858 C676,857 686,859 692,863.5"/><path d="M741.5,851 C730,851 718,855 710,863"/><path d="M741.5,857 C733,857 725,860 720,863.5"/></g><rect x="667.5" y="885.5" width="25.5" height="28.5" fill="#6db5e6"/><rect x="715.5" y="885.5" width="26" height="29" fill="#6db5e6"/><path d="M695,883 L714,883 L713,900 L715,915 L741.5,916 L741.5,933 L667.5,933 L667.5,916 L693,915 L696,900Z" fill="#fff"/><path d="M701,884 L703,900 L701,914 L704,914 L706,900 L704,884Z" fill="#6db5e6"/><g fill="#34437b"><path d="M674,889 l4.5,9 h-2 l3.5,7 h-2.5 l3,6 h-13 l3,-6 h-2.5 l3.5,-7 h-2Z"/><path d="M680,887 l4,8 h-2 l3.5,7 h-2 l3,7 h-13 l3,-7 h-2 l3.5,-7 h-2Z"/><path d="M687,892 l3.5,7 h-1.5 l3,6 h-2 l2.5,6 h-11 l2.500,-6 h-2 l3,-6 h-1.500Z"/><rect x="669" y="909" width="23" height="2.500"/></g><g fill="#34437b"><rect x="720" y="889" width="6" height="25"/><rect x="726" y="896" width="5" height="18"/><path d="M731,891 l6,3 v20 h-6Z"/><rect x="718" y="904" width="20" height="10.500"/></g><g fill="#fff"><rect x="727" y="898" width="1" height="1"/><rect x="727" y="900.5" width="1" height="1"/><rect x="727" y="903" width="1" height="1"/><rect x="727" y="905.5" width="1" height="1"/><rect x="729.5" y="898" width="1" height="1"/><rect x="729.5" y="900.5" width="1" height="1"/><rect x="729.5" y="903" width="1" height="1"/><rect x="729.5" y="905.5" width="1" height="1"/><rect x="732" y="898" width="1" height="1"/><rect x="732" y="900.5" width="1" height="1"/><rect x="732" y="903" width="1" height="1"/><rect x="732" y="905.5" width="1" height="1"/><rect x="734.5" y="898" width="1" height="1"/><rect x="734.5" y="900.5" width="1" height="1"/><rect x="734.5" y="903" width="1" height="1"/><rect x="734.5" y="905.5" width="1" height="1"/><rect x="721" y="909" width="2" height="2"/><rect x="726" y="909" width="2" height="2"/><rect x="732" y="909" width="2.500" height="2"/></g><path d="M667.5,919 C675,917 683,921 690,919 C695,917 700,925 706,925 C712,925 716,918 722,919 C730,921 736,918 741.5,920" stroke="#34437b" stroke-width="1.3" fill="none"/><path d="M667.5,926 C676,924 684,927 692,925 M712,927 C722,924 732,928 741.5,925" stroke="#6db5e6" stroke-width="1.2" fill="none"/><path d="M667.5,933 L667.5,930 C676,932 684,929 690,931 C697,934 712,934 718,931 C726,929 734,932 741.5,930 L741.5,933Z" fill="#34437b"/><ellipse cx="709" cy="928" rx="4" ry="3" fill="#fff" stroke="#34437b" stroke-width="0.8"/></g>
</svg></body></html>
